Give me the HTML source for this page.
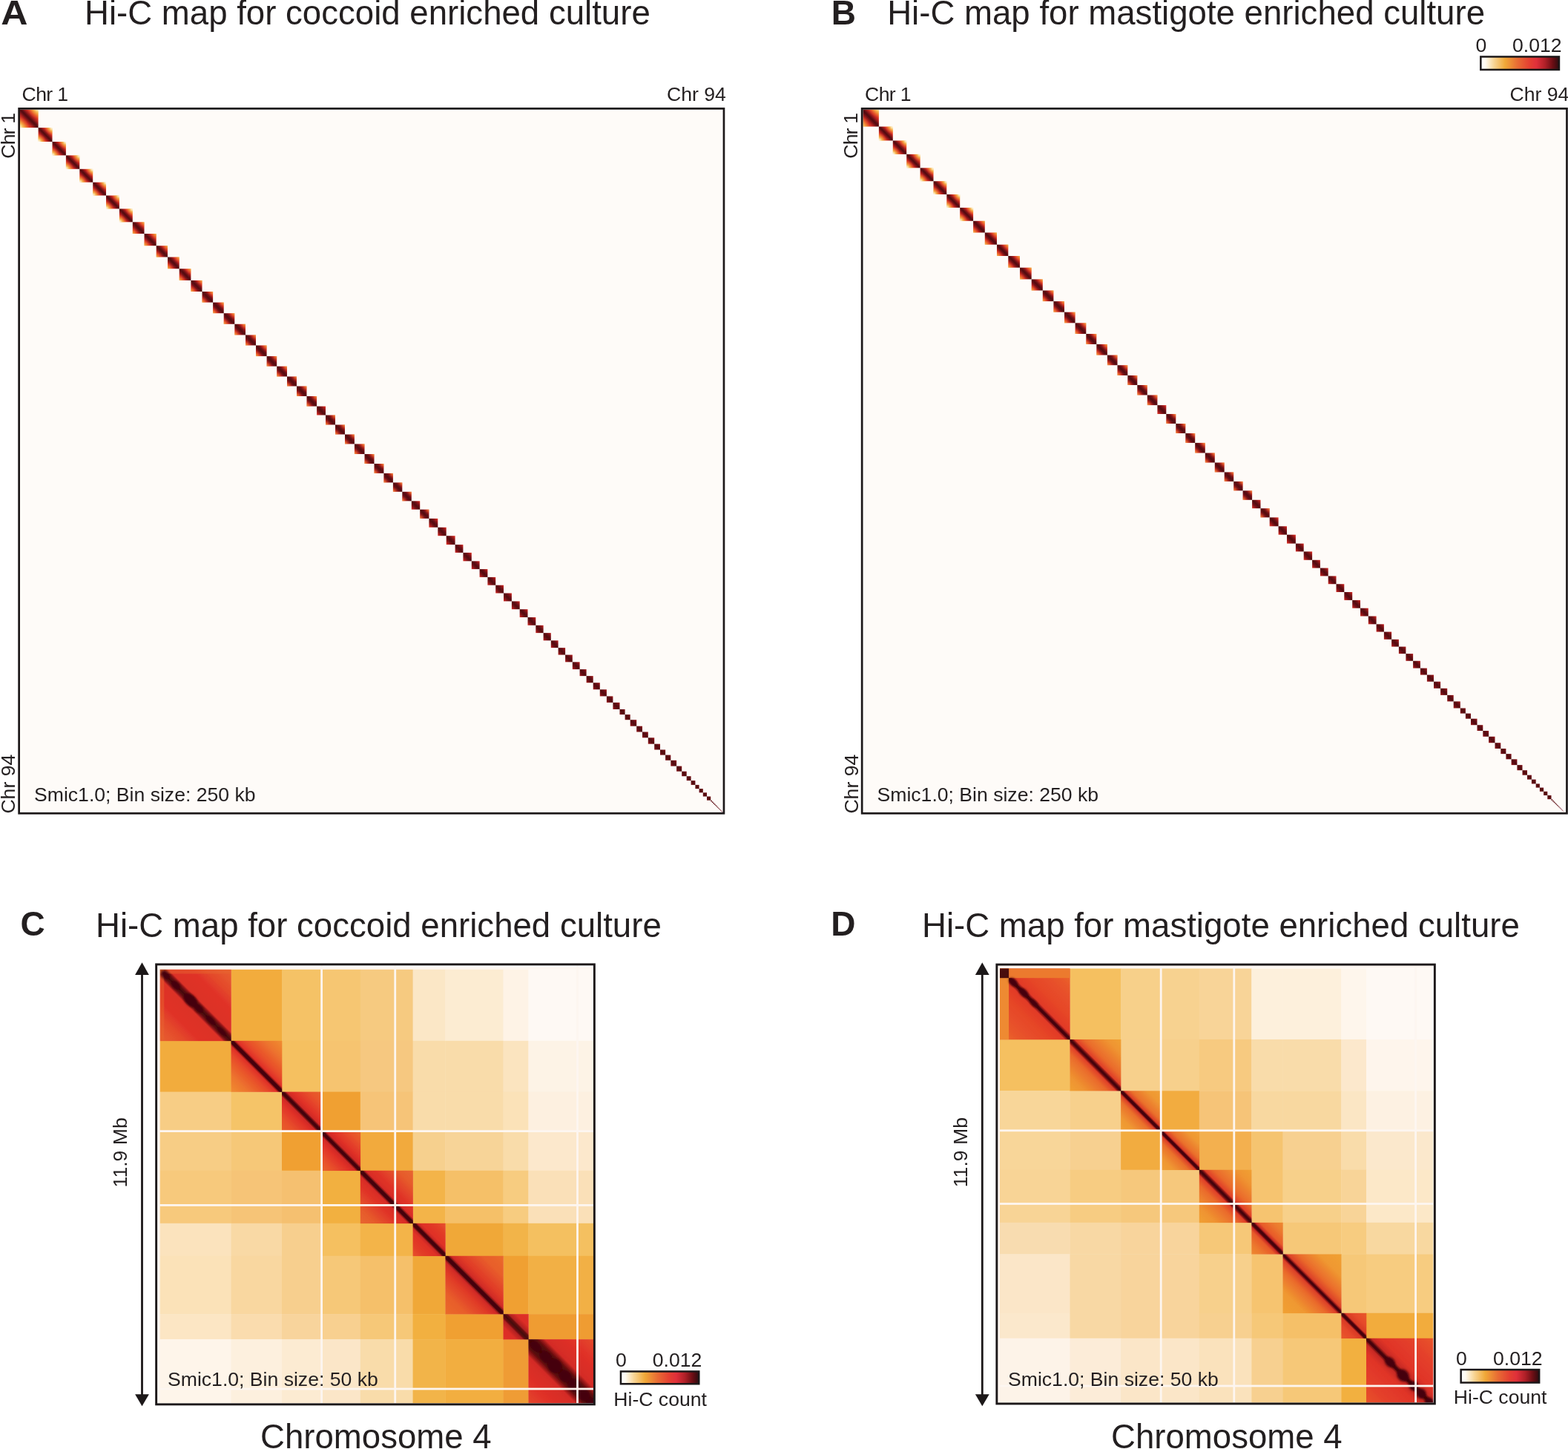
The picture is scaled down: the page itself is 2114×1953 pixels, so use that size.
<!DOCTYPE html>
<html><head><meta charset="utf-8"><title>Hi-C maps</title>
<style>
html,body{margin:0;padding:0;background:#fff;}
body{width:2114px;height:1953px;overflow:hidden;position:relative;}
svg{position:absolute;left:0;top:0;display:block;}
text{font-family:"Liberation Sans",Arial,Helvetica,sans-serif;fill:#231f20;}
.t{font-size:45.6px;}
.b{font-size:46px;font-weight:bold;}
.s{font-size:26.6px;}
</style></head><body>
<svg width="2114" height="1953" viewBox="0 0 2114 1953">
<defs><filter id="blur2" x="-50%" y="-50%" width="200%" height="200%"><feGaussianBlur stdDeviation="1.6"/></filter><filter id="soft" x="0" y="0" width="100%" height="100%"><feGaussianBlur stdDeviation="0.7"/></filter><radialGradient id="capATR" cx="1" cy="0" r="0.55" fx="1" fy="0"><stop offset="0" stop-color="#fefbf8" stop-opacity="1"/><stop offset="0.22" stop-color="#fce6b4" stop-opacity="0.9"/><stop offset="0.45" stop-color="#f7bf58" stop-opacity="0.6"/><stop offset="0.75" stop-color="#f29a38" stop-opacity="0.25"/><stop offset="1" stop-color="#f29a38" stop-opacity="0"/></radialGradient>
<radialGradient id="capABL" cx="0" cy="1" r="0.55" fx="0" fy="1"><stop offset="0" stop-color="#fefbf8" stop-opacity="1"/><stop offset="0.22" stop-color="#fce6b4" stop-opacity="0.9"/><stop offset="0.45" stop-color="#f7bf58" stop-opacity="0.6"/><stop offset="0.75" stop-color="#f29a38" stop-opacity="0.25"/><stop offset="1" stop-color="#f29a38" stop-opacity="0"/></radialGradient>
<radialGradient id="capBTR" cx="1" cy="0" r="0.55" fx="1" fy="0"><stop offset="0" stop-color="#f8c868" stop-opacity="0.6"/><stop offset="0.35" stop-color="#f29a38" stop-opacity="0.4"/><stop offset="0.75" stop-color="#ec6a2c" stop-opacity="0.12"/><stop offset="1" stop-color="#ec6a2c" stop-opacity="0"/></radialGradient>
<radialGradient id="capBBL" cx="0" cy="1" r="0.55" fx="0" fy="1"><stop offset="0" stop-color="#f8c868" stop-opacity="0.6"/><stop offset="0.35" stop-color="#f29a38" stop-opacity="0.4"/><stop offset="0.75" stop-color="#ec6a2c" stop-opacity="0.12"/><stop offset="1" stop-color="#ec6a2c" stop-opacity="0"/></radialGradient>
<linearGradient id="cbg" x1="0" y1="0" x2="1" y2="0"><stop offset="0" stop-color="#ffffff"/><stop offset="0.06" stop-color="#fffaf0"/><stop offset="0.17" stop-color="#f8d494"/><stop offset="0.31" stop-color="#f0a838"/><stop offset="0.47" stop-color="#e86c34"/><stop offset="0.62" stop-color="#e44032"/><stop offset="0.71" stop-color="#e0303a"/><stop offset="0.82" stop-color="#b02028"/><stop offset="0.92" stop-color="#6a0e14"/><stop offset="1" stop-color="#2c0c10"/></linearGradient>
<clipPath id="clip1"><rect x="27" y="147.7" width="947.6" height="947.2"/></clipPath>
<linearGradient id="bg2" x1="1" y1="0" x2="0" y2="1"><stop offset="0" stop-color="#fefbf8"/><stop offset="0.05" stop-color="#fdeed0"/><stop offset="0.1" stop-color="#fad68c"/><stop offset="0.15" stop-color="#f5ad4c"/><stop offset="0.2" stop-color="#ee7e31"/><stop offset="0.25" stop-color="#e7582a"/><stop offset="0.3" stop-color="#dd3827"/><stop offset="0.35" stop-color="#c22822"/><stop offset="0.4" stop-color="#9a1a1c"/><stop offset="0.45" stop-color="#6c0f14"/><stop offset="0.5" stop-color="#500a10"/><stop offset="0.55" stop-color="#6c0f14"/><stop offset="0.6" stop-color="#9a1a1c"/><stop offset="0.65" stop-color="#c22822"/><stop offset="0.7" stop-color="#dd3827"/><stop offset="0.75" stop-color="#e7582a"/><stop offset="0.8" stop-color="#ee7e31"/><stop offset="0.85" stop-color="#f5ad4c"/><stop offset="0.9" stop-color="#fad68c"/><stop offset="0.95" stop-color="#fdeed0"/><stop offset="1" stop-color="#fefbf8"/></linearGradient>
<linearGradient id="bg3" x1="1" y1="0" x2="0" y2="1"><stop offset="0" stop-color="#fce8bc"/><stop offset="0.05" stop-color="#f9cf7b"/><stop offset="0.1" stop-color="#f5b352"/><stop offset="0.15" stop-color="#f18f35"/><stop offset="0.2" stop-color="#eb682c"/><stop offset="0.25" stop-color="#e34529"/><stop offset="0.3" stop-color="#cd2f25"/><stop offset="0.35" stop-color="#b01f1f"/><stop offset="0.4" stop-color="#891619"/><stop offset="0.45" stop-color="#680f13"/><stop offset="0.5" stop-color="#500a10"/><stop offset="0.55" stop-color="#680f13"/><stop offset="0.6" stop-color="#891619"/><stop offset="0.65" stop-color="#b01f1f"/><stop offset="0.7" stop-color="#cd2f25"/><stop offset="0.75" stop-color="#e34529"/><stop offset="0.8" stop-color="#eb682c"/><stop offset="0.85" stop-color="#f18f35"/><stop offset="0.9" stop-color="#f5b352"/><stop offset="0.95" stop-color="#f9cf7b"/><stop offset="1" stop-color="#fce8bc"/></linearGradient>
<linearGradient id="bg4" x1="1" y1="0" x2="0" y2="1"><stop offset="0" stop-color="#fce5b4"/><stop offset="0.05" stop-color="#f8cc71"/><stop offset="0.1" stop-color="#f5af4e"/><stop offset="0.15" stop-color="#f08c34"/><stop offset="0.2" stop-color="#eb662c"/><stop offset="0.25" stop-color="#e24329"/><stop offset="0.3" stop-color="#cc2e24"/><stop offset="0.35" stop-color="#ae1f1f"/><stop offset="0.4" stop-color="#871518"/><stop offset="0.45" stop-color="#680f13"/><stop offset="0.5" stop-color="#500a10"/><stop offset="0.55" stop-color="#680f13"/><stop offset="0.6" stop-color="#871518"/><stop offset="0.65" stop-color="#ae1f1f"/><stop offset="0.7" stop-color="#cc2e24"/><stop offset="0.75" stop-color="#e24329"/><stop offset="0.8" stop-color="#eb662c"/><stop offset="0.85" stop-color="#f08c34"/><stop offset="0.9" stop-color="#f5af4e"/><stop offset="0.95" stop-color="#f8cc71"/><stop offset="1" stop-color="#fce5b4"/></linearGradient>
<linearGradient id="bg5" x1="1" y1="0" x2="0" y2="1"><stop offset="0" stop-color="#fbe2ab"/><stop offset="0.05" stop-color="#f8c868"/><stop offset="0.1" stop-color="#f4ac4a"/><stop offset="0.15" stop-color="#f08934"/><stop offset="0.2" stop-color="#ea642b"/><stop offset="0.25" stop-color="#e24129"/><stop offset="0.3" stop-color="#ca2d24"/><stop offset="0.35" stop-color="#ac1e1f"/><stop offset="0.4" stop-color="#861518"/><stop offset="0.45" stop-color="#670e13"/><stop offset="0.5" stop-color="#500a10"/><stop offset="0.55" stop-color="#670e13"/><stop offset="0.6" stop-color="#861518"/><stop offset="0.65" stop-color="#ac1e1f"/><stop offset="0.7" stop-color="#ca2d24"/><stop offset="0.75" stop-color="#e24129"/><stop offset="0.8" stop-color="#ea642b"/><stop offset="0.85" stop-color="#f08934"/><stop offset="0.9" stop-color="#f4ac4a"/><stop offset="0.95" stop-color="#f8c868"/><stop offset="1" stop-color="#fbe2ab"/></linearGradient>
<linearGradient id="bg6" x1="1" y1="0" x2="0" y2="1"><stop offset="0" stop-color="#f3a03e"/><stop offset="0.05" stop-color="#f08733"/><stop offset="0.1" stop-color="#ec6c2d"/><stop offset="0.15" stop-color="#e7542a"/><stop offset="0.2" stop-color="#e13d28"/><stop offset="0.25" stop-color="#c92c24"/><stop offset="0.3" stop-color="#ac1e1f"/><stop offset="0.35" stop-color="#8f171a"/><stop offset="0.4" stop-color="#731115"/><stop offset="0.45" stop-color="#610d12"/><stop offset="0.5" stop-color="#500a10"/><stop offset="0.55" stop-color="#610d12"/><stop offset="0.6" stop-color="#731115"/><stop offset="0.65" stop-color="#8f171a"/><stop offset="0.7" stop-color="#ac1e1f"/><stop offset="0.75" stop-color="#c92c24"/><stop offset="0.8" stop-color="#e13d28"/><stop offset="0.85" stop-color="#e7542a"/><stop offset="0.9" stop-color="#ec6c2d"/><stop offset="0.95" stop-color="#f08733"/><stop offset="1" stop-color="#f3a03e"/></linearGradient>
<linearGradient id="bg7" x1="1" y1="0" x2="0" y2="1"><stop offset="0" stop-color="#f4ac4a"/><stop offset="0.05" stop-color="#f19336"/><stop offset="0.1" stop-color="#ee782f"/><stop offset="0.15" stop-color="#e95e2b"/><stop offset="0.2" stop-color="#e34629"/><stop offset="0.25" stop-color="#d13125"/><stop offset="0.3" stop-color="#b42020"/><stop offset="0.35" stop-color="#95191b"/><stop offset="0.4" stop-color="#771116"/><stop offset="0.45" stop-color="#630e13"/><stop offset="0.5" stop-color="#500a10"/><stop offset="0.55" stop-color="#630e13"/><stop offset="0.6" stop-color="#771116"/><stop offset="0.65" stop-color="#95191b"/><stop offset="0.7" stop-color="#b42020"/><stop offset="0.75" stop-color="#d13125"/><stop offset="0.8" stop-color="#e34629"/><stop offset="0.85" stop-color="#e95e2b"/><stop offset="0.9" stop-color="#ee782f"/><stop offset="0.95" stop-color="#f19336"/><stop offset="1" stop-color="#f4ac4a"/></linearGradient>
<linearGradient id="bg8" x1="1" y1="0" x2="0" y2="1"><stop offset="0" stop-color="#f19336"/><stop offset="0.05" stop-color="#ee7a30"/><stop offset="0.1" stop-color="#ea622b"/><stop offset="0.15" stop-color="#e44b29"/><stop offset="0.2" stop-color="#da3727"/><stop offset="0.25" stop-color="#c02722"/><stop offset="0.3" stop-color="#a51c1d"/><stop offset="0.35" stop-color="#881518"/><stop offset="0.4" stop-color="#701015"/><stop offset="0.45" stop-color="#600d12"/><stop offset="0.5" stop-color="#500a10"/><stop offset="0.55" stop-color="#600d12"/><stop offset="0.6" stop-color="#701015"/><stop offset="0.65" stop-color="#881518"/><stop offset="0.7" stop-color="#a51c1d"/><stop offset="0.75" stop-color="#c02722"/><stop offset="0.8" stop-color="#da3727"/><stop offset="0.85" stop-color="#e44b29"/><stop offset="0.9" stop-color="#ea622b"/><stop offset="0.95" stop-color="#ee7a30"/><stop offset="1" stop-color="#f19336"/></linearGradient>
<linearGradient id="bg9" x1="1" y1="0" x2="0" y2="1"><stop offset="0" stop-color="#f08633"/><stop offset="0.05" stop-color="#ec6e2d"/><stop offset="0.1" stop-color="#e7582a"/><stop offset="0.15" stop-color="#e24129"/><stop offset="0.2" stop-color="#d13125"/><stop offset="0.25" stop-color="#b82221"/><stop offset="0.3" stop-color="#9d1a1c"/><stop offset="0.35" stop-color="#821417"/><stop offset="0.4" stop-color="#6c0f14"/><stop offset="0.45" stop-color="#5e0d12"/><stop offset="0.5" stop-color="#500a10"/><stop offset="0.55" stop-color="#5e0d12"/><stop offset="0.6" stop-color="#6c0f14"/><stop offset="0.65" stop-color="#821417"/><stop offset="0.7" stop-color="#9d1a1c"/><stop offset="0.75" stop-color="#b82221"/><stop offset="0.8" stop-color="#d13125"/><stop offset="0.85" stop-color="#e24129"/><stop offset="0.9" stop-color="#e7582a"/><stop offset="0.95" stop-color="#ec6e2d"/><stop offset="1" stop-color="#f08633"/></linearGradient>
<linearGradient id="bg10" x1="1" y1="0" x2="0" y2="1"><stop offset="0" stop-color="#ee762f"/><stop offset="0.05" stop-color="#ea602b"/><stop offset="0.1" stop-color="#e44c29"/><stop offset="0.15" stop-color="#dd3827"/><stop offset="0.2" stop-color="#c72b23"/><stop offset="0.25" stop-color="#af1f1f"/><stop offset="0.3" stop-color="#96191b"/><stop offset="0.35" stop-color="#7c1316"/><stop offset="0.4" stop-color="#6a0f14"/><stop offset="0.45" stop-color="#5d0c12"/><stop offset="0.5" stop-color="#500a10"/><stop offset="0.55" stop-color="#5d0c12"/><stop offset="0.6" stop-color="#6a0f14"/><stop offset="0.65" stop-color="#7c1316"/><stop offset="0.7" stop-color="#96191b"/><stop offset="0.75" stop-color="#af1f1f"/><stop offset="0.8" stop-color="#c72b23"/><stop offset="0.85" stop-color="#dd3827"/><stop offset="0.9" stop-color="#e44c29"/><stop offset="0.95" stop-color="#ea602b"/><stop offset="1" stop-color="#ee762f"/></linearGradient>
<linearGradient id="bg11" x1="1" y1="0" x2="0" y2="1"><stop offset="0" stop-color="#eb662c"/><stop offset="0.05" stop-color="#e6532a"/><stop offset="0.1" stop-color="#e14028"/><stop offset="0.15" stop-color="#d23225"/><stop offset="0.2" stop-color="#bd2522"/><stop offset="0.25" stop-color="#a61d1e"/><stop offset="0.3" stop-color="#8e171a"/><stop offset="0.35" stop-color="#781216"/><stop offset="0.4" stop-color="#680f13"/><stop offset="0.45" stop-color="#5c0c12"/><stop offset="0.5" stop-color="#500a10"/><stop offset="0.55" stop-color="#5c0c12"/><stop offset="0.6" stop-color="#680f13"/><stop offset="0.65" stop-color="#781216"/><stop offset="0.7" stop-color="#8e171a"/><stop offset="0.75" stop-color="#a61d1e"/><stop offset="0.8" stop-color="#bd2522"/><stop offset="0.85" stop-color="#d23225"/><stop offset="0.9" stop-color="#e14028"/><stop offset="0.95" stop-color="#e6532a"/><stop offset="1" stop-color="#eb662c"/></linearGradient>
<linearGradient id="bg12" x1="1" y1="0" x2="0" y2="1"><stop offset="0" stop-color="#e7582a"/><stop offset="0.05" stop-color="#e34629"/><stop offset="0.1" stop-color="#da3727"/><stop offset="0.15" stop-color="#c72b23"/><stop offset="0.2" stop-color="#b22020"/><stop offset="0.25" stop-color="#9d1a1c"/><stop offset="0.3" stop-color="#871518"/><stop offset="0.35" stop-color="#741115"/><stop offset="0.4" stop-color="#660e13"/><stop offset="0.45" stop-color="#5b0c12"/><stop offset="0.5" stop-color="#500a10"/><stop offset="0.55" stop-color="#5b0c12"/><stop offset="0.6" stop-color="#660e13"/><stop offset="0.65" stop-color="#741115"/><stop offset="0.7" stop-color="#871518"/><stop offset="0.75" stop-color="#9d1a1c"/><stop offset="0.8" stop-color="#b22020"/><stop offset="0.85" stop-color="#c72b23"/><stop offset="0.9" stop-color="#da3727"/><stop offset="0.95" stop-color="#e34629"/><stop offset="1" stop-color="#e7582a"/></linearGradient>
<linearGradient id="bg13" x1="1" y1="0" x2="0" y2="1"><stop offset="0" stop-color="#e34529"/><stop offset="0.05" stop-color="#da3627"/><stop offset="0.1" stop-color="#c92c24"/><stop offset="0.15" stop-color="#b72221"/><stop offset="0.2" stop-color="#a41c1d"/><stop offset="0.25" stop-color="#91181a"/><stop offset="0.3" stop-color="#7f1317"/><stop offset="0.35" stop-color="#701015"/><stop offset="0.4" stop-color="#650e13"/><stop offset="0.45" stop-color="#5a0c11"/><stop offset="0.5" stop-color="#500a10"/><stop offset="0.55" stop-color="#5a0c11"/><stop offset="0.6" stop-color="#650e13"/><stop offset="0.65" stop-color="#701015"/><stop offset="0.7" stop-color="#7f1317"/><stop offset="0.75" stop-color="#91181a"/><stop offset="0.8" stop-color="#a41c1d"/><stop offset="0.85" stop-color="#b72221"/><stop offset="0.9" stop-color="#c92c24"/><stop offset="0.95" stop-color="#da3627"/><stop offset="1" stop-color="#e34529"/></linearGradient>
<linearGradient id="bg14" x1="1" y1="0" x2="0" y2="1"><stop offset="0" stop-color="#e54e2a"/><stop offset="0.05" stop-color="#e13d28"/><stop offset="0.1" stop-color="#d23125"/><stop offset="0.15" stop-color="#bf2722"/><stop offset="0.2" stop-color="#ab1e1e"/><stop offset="0.25" stop-color="#97191b"/><stop offset="0.3" stop-color="#831418"/><stop offset="0.35" stop-color="#721015"/><stop offset="0.4" stop-color="#650e13"/><stop offset="0.45" stop-color="#5b0c12"/><stop offset="0.5" stop-color="#500a10"/><stop offset="0.55" stop-color="#5b0c12"/><stop offset="0.6" stop-color="#650e13"/><stop offset="0.65" stop-color="#721015"/><stop offset="0.7" stop-color="#831418"/><stop offset="0.75" stop-color="#97191b"/><stop offset="0.8" stop-color="#ab1e1e"/><stop offset="0.85" stop-color="#bf2722"/><stop offset="0.9" stop-color="#d23125"/><stop offset="0.95" stop-color="#e13d28"/><stop offset="1" stop-color="#e54e2a"/></linearGradient>
<linearGradient id="bg15" x1="1" y1="0" x2="0" y2="1"><stop offset="0" stop-color="#e03c28"/><stop offset="0.05" stop-color="#d13125"/><stop offset="0.1" stop-color="#c02722"/><stop offset="0.15" stop-color="#af1f1f"/><stop offset="0.2" stop-color="#9c1a1c"/><stop offset="0.25" stop-color="#8b1619"/><stop offset="0.3" stop-color="#7a1216"/><stop offset="0.35" stop-color="#6e1014"/><stop offset="0.4" stop-color="#640e13"/><stop offset="0.45" stop-color="#5a0c11"/><stop offset="0.5" stop-color="#500a10"/><stop offset="0.55" stop-color="#5a0c11"/><stop offset="0.6" stop-color="#640e13"/><stop offset="0.65" stop-color="#6e1014"/><stop offset="0.7" stop-color="#7a1216"/><stop offset="0.75" stop-color="#8b1619"/><stop offset="0.8" stop-color="#9c1a1c"/><stop offset="0.85" stop-color="#af1f1f"/><stop offset="0.9" stop-color="#c02722"/><stop offset="0.95" stop-color="#d13125"/><stop offset="1" stop-color="#e03c28"/></linearGradient>
<linearGradient id="bg16" x1="1" y1="0" x2="0" y2="1"><stop offset="0" stop-color="#d93627"/><stop offset="0.05" stop-color="#c82c24"/><stop offset="0.1" stop-color="#b82221"/><stop offset="0.15" stop-color="#a61d1e"/><stop offset="0.2" stop-color="#95191b"/><stop offset="0.25" stop-color="#861518"/><stop offset="0.3" stop-color="#771116"/><stop offset="0.35" stop-color="#6c0f14"/><stop offset="0.4" stop-color="#630e13"/><stop offset="0.45" stop-color="#590c11"/><stop offset="0.5" stop-color="#500a10"/><stop offset="0.55" stop-color="#590c11"/><stop offset="0.6" stop-color="#630e13"/><stop offset="0.65" stop-color="#6c0f14"/><stop offset="0.7" stop-color="#771116"/><stop offset="0.75" stop-color="#861518"/><stop offset="0.8" stop-color="#95191b"/><stop offset="0.85" stop-color="#a61d1e"/><stop offset="0.9" stop-color="#b82221"/><stop offset="0.95" stop-color="#c82c24"/><stop offset="1" stop-color="#d93627"/></linearGradient>
<linearGradient id="bg17" x1="1" y1="0" x2="0" y2="1"><stop offset="0" stop-color="#ce2f25"/><stop offset="0.05" stop-color="#bf2622"/><stop offset="0.1" stop-color="#af1f1f"/><stop offset="0.15" stop-color="#9f1b1c"/><stop offset="0.2" stop-color="#8f171a"/><stop offset="0.25" stop-color="#811417"/><stop offset="0.3" stop-color="#741115"/><stop offset="0.35" stop-color="#6a0f14"/><stop offset="0.4" stop-color="#620d12"/><stop offset="0.45" stop-color="#590c11"/><stop offset="0.5" stop-color="#500a10"/><stop offset="0.55" stop-color="#590c11"/><stop offset="0.6" stop-color="#620d12"/><stop offset="0.65" stop-color="#6a0f14"/><stop offset="0.7" stop-color="#741115"/><stop offset="0.75" stop-color="#811417"/><stop offset="0.8" stop-color="#8f171a"/><stop offset="0.85" stop-color="#9f1b1c"/><stop offset="0.9" stop-color="#af1f1f"/><stop offset="0.95" stop-color="#bf2622"/><stop offset="1" stop-color="#ce2f25"/></linearGradient>
<linearGradient id="bg18" x1="1" y1="0" x2="0" y2="1"><stop offset="0" stop-color="#c32923"/><stop offset="0.05" stop-color="#b52120"/><stop offset="0.1" stop-color="#a61d1e"/><stop offset="0.15" stop-color="#98191b"/><stop offset="0.2" stop-color="#891619"/><stop offset="0.25" stop-color="#7c1216"/><stop offset="0.3" stop-color="#721015"/><stop offset="0.35" stop-color="#680f13"/><stop offset="0.4" stop-color="#600d12"/><stop offset="0.45" stop-color="#580c11"/><stop offset="0.5" stop-color="#500a10"/><stop offset="0.55" stop-color="#580c11"/><stop offset="0.6" stop-color="#600d12"/><stop offset="0.65" stop-color="#680f13"/><stop offset="0.7" stop-color="#721015"/><stop offset="0.75" stop-color="#7c1216"/><stop offset="0.8" stop-color="#891619"/><stop offset="0.85" stop-color="#98191b"/><stop offset="0.9" stop-color="#a61d1e"/><stop offset="0.95" stop-color="#b52120"/><stop offset="1" stop-color="#c32923"/></linearGradient>
<linearGradient id="bg19" x1="1" y1="0" x2="0" y2="1"><stop offset="0" stop-color="#b82221"/><stop offset="0.05" stop-color="#ab1e1e"/><stop offset="0.1" stop-color="#9e1b1c"/><stop offset="0.15" stop-color="#91171a"/><stop offset="0.2" stop-color="#841418"/><stop offset="0.25" stop-color="#781216"/><stop offset="0.3" stop-color="#6f1014"/><stop offset="0.35" stop-color="#670e13"/><stop offset="0.4" stop-color="#5f0d12"/><stop offset="0.45" stop-color="#580b11"/><stop offset="0.5" stop-color="#500a10"/><stop offset="0.55" stop-color="#580b11"/><stop offset="0.6" stop-color="#5f0d12"/><stop offset="0.65" stop-color="#670e13"/><stop offset="0.7" stop-color="#6f1014"/><stop offset="0.75" stop-color="#781216"/><stop offset="0.8" stop-color="#841418"/><stop offset="0.85" stop-color="#91171a"/><stop offset="0.9" stop-color="#9e1b1c"/><stop offset="0.95" stop-color="#ab1e1e"/><stop offset="1" stop-color="#b82221"/></linearGradient>
<linearGradient id="bg20" x1="1" y1="0" x2="0" y2="1"><stop offset="0" stop-color="#ac1e1f"/><stop offset="0.05" stop-color="#a11b1d"/><stop offset="0.1" stop-color="#95191b"/><stop offset="0.15" stop-color="#891619"/><stop offset="0.2" stop-color="#7e1317"/><stop offset="0.25" stop-color="#741115"/><stop offset="0.3" stop-color="#6c0f14"/><stop offset="0.35" stop-color="#650e13"/><stop offset="0.4" stop-color="#5e0d12"/><stop offset="0.45" stop-color="#570b11"/><stop offset="0.5" stop-color="#500a10"/><stop offset="0.55" stop-color="#570b11"/><stop offset="0.6" stop-color="#5e0d12"/><stop offset="0.65" stop-color="#650e13"/><stop offset="0.7" stop-color="#6c0f14"/><stop offset="0.75" stop-color="#741115"/><stop offset="0.8" stop-color="#7e1317"/><stop offset="0.85" stop-color="#891619"/><stop offset="0.9" stop-color="#95191b"/><stop offset="0.95" stop-color="#a11b1d"/><stop offset="1" stop-color="#ac1e1f"/></linearGradient>
<linearGradient id="bg21" x1="1" y1="0" x2="0" y2="1"><stop offset="0" stop-color="#a51c1d"/><stop offset="0.05" stop-color="#9a1a1b"/><stop offset="0.1" stop-color="#8e171a"/><stop offset="0.15" stop-color="#831418"/><stop offset="0.2" stop-color="#791216"/><stop offset="0.25" stop-color="#711015"/><stop offset="0.3" stop-color="#690f14"/><stop offset="0.35" stop-color="#630e13"/><stop offset="0.4" stop-color="#5d0c12"/><stop offset="0.45" stop-color="#560b11"/><stop offset="0.5" stop-color="#500a10"/><stop offset="0.55" stop-color="#560b11"/><stop offset="0.6" stop-color="#5d0c12"/><stop offset="0.65" stop-color="#630e13"/><stop offset="0.7" stop-color="#690f14"/><stop offset="0.75" stop-color="#711015"/><stop offset="0.8" stop-color="#791216"/><stop offset="0.85" stop-color="#831418"/><stop offset="0.9" stop-color="#8e171a"/><stop offset="0.95" stop-color="#9a1a1b"/><stop offset="1" stop-color="#a51c1d"/></linearGradient>
<linearGradient id="bg22" x1="1" y1="0" x2="0" y2="1"><stop offset="0" stop-color="#8d1719"/><stop offset="0.05" stop-color="#841418"/><stop offset="0.1" stop-color="#7b1216"/><stop offset="0.15" stop-color="#741115"/><stop offset="0.2" stop-color="#6d1014"/><stop offset="0.25" stop-color="#660e13"/><stop offset="0.3" stop-color="#620d13"/><stop offset="0.35" stop-color="#5d0d12"/><stop offset="0.4" stop-color="#590c11"/><stop offset="0.45" stop-color="#540b11"/><stop offset="0.5" stop-color="#500a10"/><stop offset="0.55" stop-color="#540b11"/><stop offset="0.6" stop-color="#590c11"/><stop offset="0.65" stop-color="#5d0d12"/><stop offset="0.7" stop-color="#620d13"/><stop offset="0.75" stop-color="#660e13"/><stop offset="0.8" stop-color="#6d1014"/><stop offset="0.85" stop-color="#741115"/><stop offset="0.9" stop-color="#7b1216"/><stop offset="0.95" stop-color="#841418"/><stop offset="1" stop-color="#8d1719"/></linearGradient>
<linearGradient id="bg23" x1="1" y1="0" x2="0" y2="1"><stop offset="0" stop-color="#9d1a1c"/><stop offset="0.05" stop-color="#92181a"/><stop offset="0.1" stop-color="#881518"/><stop offset="0.15" stop-color="#7d1317"/><stop offset="0.2" stop-color="#751115"/><stop offset="0.25" stop-color="#6d1014"/><stop offset="0.3" stop-color="#670e13"/><stop offset="0.35" stop-color="#610d12"/><stop offset="0.4" stop-color="#5b0c12"/><stop offset="0.45" stop-color="#560b11"/><stop offset="0.5" stop-color="#500a10"/><stop offset="0.55" stop-color="#560b11"/><stop offset="0.6" stop-color="#5b0c12"/><stop offset="0.65" stop-color="#610d12"/><stop offset="0.7" stop-color="#670e13"/><stop offset="0.75" stop-color="#6d1014"/><stop offset="0.8" stop-color="#751115"/><stop offset="0.85" stop-color="#7d1317"/><stop offset="0.9" stop-color="#881518"/><stop offset="0.95" stop-color="#92181a"/><stop offset="1" stop-color="#9d1a1c"/></linearGradient>
<linearGradient id="bg24" x1="1" y1="0" x2="0" y2="1"><stop offset="0" stop-color="#861518"/><stop offset="0.05" stop-color="#7d1317"/><stop offset="0.1" stop-color="#771116"/><stop offset="0.15" stop-color="#711015"/><stop offset="0.2" stop-color="#6b0f14"/><stop offset="0.25" stop-color="#650e13"/><stop offset="0.3" stop-color="#610d12"/><stop offset="0.35" stop-color="#5d0c12"/><stop offset="0.4" stop-color="#580c11"/><stop offset="0.45" stop-color="#540b11"/><stop offset="0.5" stop-color="#500a10"/><stop offset="0.55" stop-color="#540b11"/><stop offset="0.6" stop-color="#580c11"/><stop offset="0.65" stop-color="#5d0c12"/><stop offset="0.7" stop-color="#610d12"/><stop offset="0.75" stop-color="#650e13"/><stop offset="0.8" stop-color="#6b0f14"/><stop offset="0.85" stop-color="#711015"/><stop offset="0.9" stop-color="#771116"/><stop offset="0.95" stop-color="#7d1317"/><stop offset="1" stop-color="#861518"/></linearGradient>
<linearGradient id="bg25" x1="1" y1="0" x2="0" y2="1"><stop offset="0" stop-color="#7e1317"/><stop offset="0.05" stop-color="#781216"/><stop offset="0.1" stop-color="#731115"/><stop offset="0.15" stop-color="#6e1014"/><stop offset="0.2" stop-color="#690f14"/><stop offset="0.25" stop-color="#640e13"/><stop offset="0.3" stop-color="#600d12"/><stop offset="0.35" stop-color="#5c0c12"/><stop offset="0.4" stop-color="#580b11"/><stop offset="0.45" stop-color="#540b11"/><stop offset="0.5" stop-color="#500a10"/><stop offset="0.55" stop-color="#540b11"/><stop offset="0.6" stop-color="#580b11"/><stop offset="0.65" stop-color="#5c0c12"/><stop offset="0.7" stop-color="#600d12"/><stop offset="0.75" stop-color="#640e13"/><stop offset="0.8" stop-color="#690f14"/><stop offset="0.85" stop-color="#6e1014"/><stop offset="0.9" stop-color="#731115"/><stop offset="0.95" stop-color="#781216"/><stop offset="1" stop-color="#7e1317"/></linearGradient>
<linearGradient id="bg26" x1="1" y1="0" x2="0" y2="1"><stop offset="0" stop-color="#721015"/><stop offset="0.05" stop-color="#6e1014"/><stop offset="0.1" stop-color="#6b0f14"/><stop offset="0.15" stop-color="#680e13"/><stop offset="0.2" stop-color="#640e13"/><stop offset="0.25" stop-color="#610d12"/><stop offset="0.3" stop-color="#5d0d12"/><stop offset="0.35" stop-color="#5a0c11"/><stop offset="0.4" stop-color="#570b11"/><stop offset="0.45" stop-color="#530b10"/><stop offset="0.5" stop-color="#500a10"/><stop offset="0.55" stop-color="#530b10"/><stop offset="0.6" stop-color="#570b11"/><stop offset="0.65" stop-color="#5a0c11"/><stop offset="0.7" stop-color="#5d0d12"/><stop offset="0.75" stop-color="#610d12"/><stop offset="0.8" stop-color="#640e13"/><stop offset="0.85" stop-color="#680e13"/><stop offset="0.9" stop-color="#6b0f14"/><stop offset="0.95" stop-color="#6e1014"/><stop offset="1" stop-color="#721015"/></linearGradient>
<linearGradient id="bg27" x1="1" y1="0" x2="0" y2="1"><stop offset="0" stop-color="#721015"/><stop offset="0.05" stop-color="#6e1014"/><stop offset="0.1" stop-color="#6b0f14"/><stop offset="0.15" stop-color="#680e13"/><stop offset="0.2" stop-color="#640e13"/><stop offset="0.25" stop-color="#610d12"/><stop offset="0.3" stop-color="#5d0d12"/><stop offset="0.35" stop-color="#5a0c11"/><stop offset="0.4" stop-color="#570b11"/><stop offset="0.45" stop-color="#530b10"/><stop offset="0.5" stop-color="#500a10"/><stop offset="0.55" stop-color="#530b10"/><stop offset="0.6" stop-color="#570b11"/><stop offset="0.65" stop-color="#5a0c11"/><stop offset="0.7" stop-color="#5d0d12"/><stop offset="0.75" stop-color="#610d12"/><stop offset="0.8" stop-color="#640e13"/><stop offset="0.85" stop-color="#680e13"/><stop offset="0.9" stop-color="#6b0f14"/><stop offset="0.95" stop-color="#6e1014"/><stop offset="1" stop-color="#721015"/></linearGradient>
<linearGradient id="bg28" x1="1" y1="0" x2="0" y2="1"><stop offset="0" stop-color="#721015"/><stop offset="0.05" stop-color="#6e1014"/><stop offset="0.1" stop-color="#6b0f14"/><stop offset="0.15" stop-color="#680e13"/><stop offset="0.2" stop-color="#640e13"/><stop offset="0.25" stop-color="#610d12"/><stop offset="0.3" stop-color="#5d0d12"/><stop offset="0.35" stop-color="#5a0c11"/><stop offset="0.4" stop-color="#570b11"/><stop offset="0.45" stop-color="#530b10"/><stop offset="0.5" stop-color="#500a10"/><stop offset="0.55" stop-color="#530b10"/><stop offset="0.6" stop-color="#570b11"/><stop offset="0.65" stop-color="#5a0c11"/><stop offset="0.7" stop-color="#5d0d12"/><stop offset="0.75" stop-color="#610d12"/><stop offset="0.8" stop-color="#640e13"/><stop offset="0.85" stop-color="#680e13"/><stop offset="0.9" stop-color="#6b0f14"/><stop offset="0.95" stop-color="#6e1014"/><stop offset="1" stop-color="#721015"/></linearGradient>
<linearGradient id="bg29" x1="1" y1="0" x2="0" y2="1"><stop offset="0" stop-color="#721015"/><stop offset="0.05" stop-color="#6e1014"/><stop offset="0.1" stop-color="#6b0f14"/><stop offset="0.15" stop-color="#680e13"/><stop offset="0.2" stop-color="#640e13"/><stop offset="0.25" stop-color="#610d12"/><stop offset="0.3" stop-color="#5d0d12"/><stop offset="0.35" stop-color="#5a0c11"/><stop offset="0.4" stop-color="#570b11"/><stop offset="0.45" stop-color="#530b10"/><stop offset="0.5" stop-color="#500a10"/><stop offset="0.55" stop-color="#530b10"/><stop offset="0.6" stop-color="#570b11"/><stop offset="0.65" stop-color="#5a0c11"/><stop offset="0.7" stop-color="#5d0d12"/><stop offset="0.75" stop-color="#610d12"/><stop offset="0.8" stop-color="#640e13"/><stop offset="0.85" stop-color="#680e13"/><stop offset="0.9" stop-color="#6b0f14"/><stop offset="0.95" stop-color="#6e1014"/><stop offset="1" stop-color="#721015"/></linearGradient>
<clipPath id="clip30"><rect x="1163.5" y="147.7" width="947.6" height="947.2"/></clipPath>
<clipPath id="cclip31"><rect x="212" y="1301.4" width="588.1" height="589.9"/></clipPath>
<linearGradient id="cg32" gradientUnits="userSpaceOnUse" x1="311.5" y1="1306.47" x2="215.3" y2="1402.67"><stop offset="0" stop-color="#e8602e"/><stop offset="0.17" stop-color="#e44a2c"/><stop offset="0.28" stop-color="#e03228"/><stop offset="0.44" stop-color="#dc3028"/><stop offset="0.46" stop-color="#8a1416"/><stop offset="0.48" stop-color="#5a0c10"/><stop offset="0.5" stop-color="#440608"/><stop offset="0.52" stop-color="#5a0c10"/><stop offset="0.54" stop-color="#8a1416"/><stop offset="0.56" stop-color="#dc3028"/><stop offset="0.72" stop-color="#e03228"/><stop offset="0.83" stop-color="#e44a2c"/><stop offset="1" stop-color="#e8602e"/></linearGradient>
<linearGradient id="cg33" gradientUnits="userSpaceOnUse" x1="380" y1="1402.96" x2="311.5" y2="1471.46"><stop offset="0" stop-color="#f08c30"/><stop offset="0.17" stop-color="#ed742e"/><stop offset="0.36" stop-color="#e84c2a"/><stop offset="0.45" stop-color="#e03028"/><stop offset="0.47" stop-color="#8a1416"/><stop offset="0.48" stop-color="#440608"/><stop offset="0.5" stop-color="#440608"/><stop offset="0.52" stop-color="#440608"/><stop offset="0.53" stop-color="#8a1416"/><stop offset="0.55" stop-color="#e03028"/><stop offset="0.64" stop-color="#e84c2a"/><stop offset="0.83" stop-color="#ed742e"/><stop offset="1" stop-color="#f08c30"/></linearGradient>
<linearGradient id="cg34" gradientUnits="userSpaceOnUse" x1="433.6" y1="1471.67" x2="380" y2="1525.27"><stop offset="0" stop-color="#e8602c"/><stop offset="0.17" stop-color="#e8502a"/><stop offset="0.37" stop-color="#e03028"/><stop offset="0.44" stop-color="#d02a26"/><stop offset="0.46" stop-color="#8a1416"/><stop offset="0.48" stop-color="#440608"/><stop offset="0.5" stop-color="#440608"/><stop offset="0.52" stop-color="#440608"/><stop offset="0.54" stop-color="#8a1416"/><stop offset="0.56" stop-color="#d02a26"/><stop offset="0.63" stop-color="#e03028"/><stop offset="0.83" stop-color="#e8502a"/><stop offset="1" stop-color="#e8602c"/></linearGradient>
<linearGradient id="cg35" gradientUnits="userSpaceOnUse" x1="485.8" y1="1525.46" x2="433.6" y2="1577.66"><stop offset="0" stop-color="#e8642c"/><stop offset="0.16" stop-color="#e8502a"/><stop offset="0.36" stop-color="#e03028"/><stop offset="0.44" stop-color="#d02a26"/><stop offset="0.46" stop-color="#8a1416"/><stop offset="0.48" stop-color="#440608"/><stop offset="0.5" stop-color="#440608"/><stop offset="0.52" stop-color="#440608"/><stop offset="0.54" stop-color="#8a1416"/><stop offset="0.56" stop-color="#d02a26"/><stop offset="0.64" stop-color="#e03028"/><stop offset="0.84" stop-color="#e8502a"/><stop offset="1" stop-color="#e8642c"/></linearGradient>
<linearGradient id="cg36" gradientUnits="userSpaceOnUse" x1="556.6" y1="1577.88" x2="485.8" y2="1648.68"><stop offset="0" stop-color="#e8662e"/><stop offset="0.15" stop-color="#e65a2c"/><stop offset="0.35" stop-color="#e03428"/><stop offset="0.45" stop-color="#d82c26"/><stop offset="0.47" stop-color="#8a1416"/><stop offset="0.48" stop-color="#440608"/><stop offset="0.5" stop-color="#440608"/><stop offset="0.52" stop-color="#440608"/><stop offset="0.53" stop-color="#8a1416"/><stop offset="0.55" stop-color="#d82c26"/><stop offset="0.65" stop-color="#e03428"/><stop offset="0.85" stop-color="#e65a2c"/><stop offset="1" stop-color="#e8662e"/></linearGradient>
<linearGradient id="cg37" gradientUnits="userSpaceOnUse" x1="600.4" y1="1648.88" x2="556.6" y2="1692.68"><stop offset="0" stop-color="#e8502a"/><stop offset="0.18" stop-color="#e23c28"/><stop offset="0.37" stop-color="#e03028"/><stop offset="0.43" stop-color="#c82824"/><stop offset="0.45" stop-color="#8a1416"/><stop offset="0.47" stop-color="#440608"/><stop offset="0.5" stop-color="#440608"/><stop offset="0.53" stop-color="#440608"/><stop offset="0.55" stop-color="#8a1416"/><stop offset="0.57" stop-color="#c82824"/><stop offset="0.63" stop-color="#e03028"/><stop offset="0.82" stop-color="#e23c28"/><stop offset="1" stop-color="#e8502a"/></linearGradient>
<linearGradient id="cg38" gradientUnits="userSpaceOnUse" x1="678.5" y1="1692.89" x2="600.4" y2="1770.99"><stop offset="0" stop-color="#ea6a2c"/><stop offset="0.18" stop-color="#e85e2a"/><stop offset="0.37" stop-color="#e03a28"/><stop offset="0.45" stop-color="#d02a26"/><stop offset="0.47" stop-color="#8a1416"/><stop offset="0.48" stop-color="#440608"/><stop offset="0.5" stop-color="#440608"/><stop offset="0.52" stop-color="#440608"/><stop offset="0.53" stop-color="#8a1416"/><stop offset="0.55" stop-color="#d02a26"/><stop offset="0.63" stop-color="#e03a28"/><stop offset="0.82" stop-color="#e85e2a"/><stop offset="1" stop-color="#ea6a2c"/></linearGradient>
<linearGradient id="cg39" gradientUnits="userSpaceOnUse" x1="712.4" y1="1771.19" x2="678.5" y2="1805.09"><stop offset="0" stop-color="#e03028"/><stop offset="0.25" stop-color="#dc2e26"/><stop offset="0.39" stop-color="#b02020"/><stop offset="0.43" stop-color="#6a0c10"/><stop offset="0.5" stop-color="#440608"/><stop offset="0.57" stop-color="#6a0c10"/><stop offset="0.61" stop-color="#b02020"/><stop offset="0.75" stop-color="#dc2e26"/><stop offset="1" stop-color="#e03028"/></linearGradient>
<linearGradient id="cg40" gradientUnits="userSpaceOnUse" x1="800.1" y1="1805.3" x2="712.4" y2="1893"><stop offset="0" stop-color="#e44a2c"/><stop offset="0.18" stop-color="#e03028"/><stop offset="0.37" stop-color="#d42c26"/><stop offset="0.41" stop-color="#8a1414"/><stop offset="0.44" stop-color="#5a0a0c"/><stop offset="0.5" stop-color="#440608"/><stop offset="0.56" stop-color="#5a0a0c"/><stop offset="0.59" stop-color="#8a1414"/><stop offset="0.63" stop-color="#d42c26"/><stop offset="0.82" stop-color="#e03028"/><stop offset="1" stop-color="#e44a2c"/></linearGradient>
<clipPath id="cclip41"><rect x="1345.4" y="1301.6" width="587" height="588.9"/></clipPath>
<linearGradient id="cg42" gradientUnits="userSpaceOnUse" x1="1442.4" y1="1305.78" x2="1347.6" y2="1400.58"><stop offset="0" stop-color="#ec6a2e"/><stop offset="0.16" stop-color="#e8542a"/><stop offset="0.35" stop-color="#e64628"/><stop offset="0.46" stop-color="#e23a28"/><stop offset="0.48" stop-color="#8a1416"/><stop offset="0.49" stop-color="#440608"/><stop offset="0.5" stop-color="#440608"/><stop offset="0.51" stop-color="#440608"/><stop offset="0.52" stop-color="#8a1416"/><stop offset="0.54" stop-color="#e23a28"/><stop offset="0.65" stop-color="#e64628"/><stop offset="0.84" stop-color="#e8542a"/><stop offset="1" stop-color="#ec6a2e"/></linearGradient>
<linearGradient id="cg43" gradientUnits="userSpaceOnUse" x1="1511.1" y1="1401.23" x2="1442.4" y2="1469.93"><stop offset="0" stop-color="#f0a030"/><stop offset="0.14" stop-color="#ef9430"/><stop offset="0.36" stop-color="#ea6a2c"/><stop offset="0.45" stop-color="#e04028"/><stop offset="0.47" stop-color="#8a1416"/><stop offset="0.49" stop-color="#440608"/><stop offset="0.5" stop-color="#440608"/><stop offset="0.51" stop-color="#440608"/><stop offset="0.53" stop-color="#8a1416"/><stop offset="0.55" stop-color="#e04028"/><stop offset="0.64" stop-color="#ea6a2c"/><stop offset="0.86" stop-color="#ef9430"/><stop offset="1" stop-color="#f0a030"/></linearGradient>
<linearGradient id="cg44" gradientUnits="userSpaceOnUse" x1="1565.2" y1="1470.42" x2="1511.1" y2="1524.52"><stop offset="0" stop-color="#f0a035"/><stop offset="0.17" stop-color="#ef9832"/><stop offset="0.37" stop-color="#ea702c"/><stop offset="0.45" stop-color="#dc4028"/><stop offset="0.47" stop-color="#8a1416"/><stop offset="0.48" stop-color="#440608"/><stop offset="0.5" stop-color="#440608"/><stop offset="0.52" stop-color="#440608"/><stop offset="0.53" stop-color="#8a1416"/><stop offset="0.55" stop-color="#dc4028"/><stop offset="0.63" stop-color="#ea702c"/><stop offset="0.83" stop-color="#ef9832"/><stop offset="1" stop-color="#f0a035"/></linearGradient>
<linearGradient id="cg45" gradientUnits="userSpaceOnUse" x1="1616.8" y1="1524.95" x2="1565.2" y2="1576.55"><stop offset="0" stop-color="#f0a035"/><stop offset="0.16" stop-color="#ef9832"/><stop offset="0.36" stop-color="#ea702c"/><stop offset="0.45" stop-color="#dc4028"/><stop offset="0.47" stop-color="#8a1416"/><stop offset="0.48" stop-color="#440608"/><stop offset="0.5" stop-color="#440608"/><stop offset="0.52" stop-color="#440608"/><stop offset="0.53" stop-color="#8a1416"/><stop offset="0.55" stop-color="#dc4028"/><stop offset="0.64" stop-color="#ea702c"/><stop offset="0.84" stop-color="#ef9832"/><stop offset="1" stop-color="#f0a035"/></linearGradient>
<linearGradient id="cg46" gradientUnits="userSpaceOnUse" x1="1687.3" y1="1577.04" x2="1616.8" y2="1647.54"><stop offset="0" stop-color="#f0a030"/><stop offset="0.15" stop-color="#ef9430"/><stop offset="0.36" stop-color="#ea6a2c"/><stop offset="0.45" stop-color="#e04028"/><stop offset="0.47" stop-color="#8a1416"/><stop offset="0.49" stop-color="#440608"/><stop offset="0.5" stop-color="#440608"/><stop offset="0.51" stop-color="#440608"/><stop offset="0.53" stop-color="#8a1416"/><stop offset="0.55" stop-color="#e04028"/><stop offset="0.64" stop-color="#ea6a2c"/><stop offset="0.85" stop-color="#ef9430"/><stop offset="1" stop-color="#f0a030"/></linearGradient>
<linearGradient id="cg47" gradientUnits="userSpaceOnUse" x1="1729.5" y1="1647.99" x2="1687.3" y2="1690.19"><stop offset="0" stop-color="#ee8830"/><stop offset="0.16" stop-color="#ec7a2e"/><stop offset="0.37" stop-color="#e85a2a"/><stop offset="0.44" stop-color="#c82a24"/><stop offset="0.46" stop-color="#7a1012"/><stop offset="0.48" stop-color="#440608"/><stop offset="0.5" stop-color="#440608"/><stop offset="0.52" stop-color="#440608"/><stop offset="0.54" stop-color="#7a1012"/><stop offset="0.56" stop-color="#c82a24"/><stop offset="0.63" stop-color="#e85a2a"/><stop offset="0.84" stop-color="#ec7a2e"/><stop offset="1" stop-color="#ee8830"/></linearGradient>
<linearGradient id="cg48" gradientUnits="userSpaceOnUse" x1="1808.3" y1="1690.67" x2="1729.5" y2="1769.47"><stop offset="0.01" stop-color="#f0a030"/><stop offset="0.19" stop-color="#ef9830"/><stop offset="0.37" stop-color="#ea6a2c"/><stop offset="0.46" stop-color="#dc4028"/><stop offset="0.48" stop-color="#8a1416"/><stop offset="0.49" stop-color="#440608"/><stop offset="0.5" stop-color="#440608"/><stop offset="0.51" stop-color="#440608"/><stop offset="0.52" stop-color="#8a1416"/><stop offset="0.54" stop-color="#dc4028"/><stop offset="0.63" stop-color="#ea6a2c"/><stop offset="0.81" stop-color="#ef9830"/><stop offset="0.99" stop-color="#f0a030"/></linearGradient>
<linearGradient id="cg49" gradientUnits="userSpaceOnUse" x1="1842" y1="1769.92" x2="1808.3" y2="1803.62"><stop offset="0" stop-color="#e8582a"/><stop offset="0.25" stop-color="#e64a2a"/><stop offset="0.42" stop-color="#d83a26"/><stop offset="0.45" stop-color="#8a1416"/><stop offset="0.47" stop-color="#440608"/><stop offset="0.5" stop-color="#440608"/><stop offset="0.53" stop-color="#440608"/><stop offset="0.55" stop-color="#8a1416"/><stop offset="0.58" stop-color="#d83a26"/><stop offset="0.75" stop-color="#e64a2a"/><stop offset="1" stop-color="#e8582a"/></linearGradient>
<linearGradient id="cg50" gradientUnits="userSpaceOnUse" x1="1932.4" y1="1804.12" x2="1842" y2="1894.52"><stop offset="0.01" stop-color="#e8542c"/><stop offset="0.19" stop-color="#e4402a"/><stop offset="0.39" stop-color="#e03428"/><stop offset="0.46" stop-color="#c82a24"/><stop offset="0.48" stop-color="#7a1012"/><stop offset="0.49" stop-color="#440608"/><stop offset="0.5" stop-color="#440608"/><stop offset="0.51" stop-color="#440608"/><stop offset="0.52" stop-color="#7a1012"/><stop offset="0.54" stop-color="#c82a24"/><stop offset="0.61" stop-color="#e03428"/><stop offset="0.81" stop-color="#e4402a"/><stop offset="0.99" stop-color="#e8542c"/></linearGradient></defs>
<rect width="2114" height="1953" fill="#fff"/>
<g clip-path="url(#clip1)">
<rect x="27" y="147.7" width="947.6" height="947.2" fill="#fefbf8"/>
<g filter="url(#soft)"><rect x="24.5" y="145" width="27.1" height="27.1" fill="url(#bg2)"/><rect x="24.5" y="145" width="27.1" height="27.1" fill="url(#capATR)"/><rect x="24.5" y="145" width="27.1" height="27.1" fill="url(#capABL)"/><rect x="51.6" y="172.1" width="18.9" height="18.9" fill="url(#bg3)"/><rect x="51.6" y="172.1" width="18.9" height="18.9" fill="url(#capATR)"/><rect x="51.6" y="172.1" width="18.9" height="18.9" fill="url(#capABL)"/><rect x="70.5" y="191" width="18.4" height="18.4" fill="url(#bg4)"/><rect x="70.5" y="191" width="18.4" height="18.4" fill="url(#capATR)"/><rect x="70.5" y="191" width="18.4" height="18.4" fill="url(#capABL)"/><rect x="88.9" y="209.4" width="18.4" height="18.4" fill="url(#bg4)"/><rect x="88.9" y="209.4" width="18.4" height="18.4" fill="url(#capATR)"/><rect x="88.9" y="209.4" width="18.4" height="18.4" fill="url(#capABL)"/><rect x="107.3" y="227.8" width="17.9" height="17.9" fill="url(#bg5)"/><rect x="107.3" y="227.8" width="17.9" height="17.9" fill="url(#capATR)"/><rect x="107.3" y="227.8" width="17.9" height="17.9" fill="url(#capABL)"/><rect x="125.2" y="245.7" width="17.8" height="17.8" fill="url(#bg5)"/><rect x="125.2" y="245.7" width="17.8" height="17.8" fill="url(#capATR)"/><rect x="125.2" y="245.7" width="17.8" height="17.8" fill="url(#capABL)"/><rect x="143" y="263.5" width="17.9" height="17.9" fill="url(#bg5)"/><rect x="143" y="263.5" width="17.9" height="17.9" fill="url(#capATR)"/><rect x="143" y="263.5" width="17.9" height="17.9" fill="url(#capABL)"/><rect x="160.9" y="281.4" width="17.9" height="17.9" fill="url(#bg5)"/><rect x="160.9" y="281.4" width="17.9" height="17.9" fill="url(#capATR)"/><rect x="160.9" y="281.4" width="17.9" height="17.9" fill="url(#capABL)"/><rect x="178.8" y="299.3" width="15.7" height="15.7" fill="url(#bg6)"/><rect x="178.8" y="299.3" width="15.7" height="15.7" fill="url(#capBTR)"/><rect x="178.8" y="299.3" width="15.7" height="15.7" fill="url(#capBBL)"/><rect x="194.5" y="315" width="16.2" height="16.2" fill="url(#bg7)"/><rect x="194.5" y="315" width="16.2" height="16.2" fill="url(#capBTR)"/><rect x="194.5" y="315" width="16.2" height="16.2" fill="url(#capBBL)"/><rect x="210.7" y="331.2" width="15.3" height="15.3" fill="url(#bg6)"/><rect x="210.7" y="331.2" width="15.3" height="15.3" fill="url(#capBTR)"/><rect x="210.7" y="331.2" width="15.3" height="15.3" fill="url(#capBBL)"/><rect x="226" y="346.5" width="15.7" height="15.7" fill="url(#bg6)"/><rect x="226" y="346.5" width="15.7" height="15.7" fill="url(#capBTR)"/><rect x="226" y="346.5" width="15.7" height="15.7" fill="url(#capBBL)"/><rect x="241.7" y="362.2" width="15.7" height="15.7" fill="url(#bg6)"/><rect x="241.7" y="362.2" width="15.7" height="15.7" fill="url(#capBTR)"/><rect x="241.7" y="362.2" width="15.7" height="15.7" fill="url(#capBBL)"/><rect x="257.4" y="377.9" width="15.1" height="15.1" fill="url(#bg8)"/><rect x="257.4" y="377.9" width="15.1" height="15.1" fill="url(#capBTR)"/><rect x="257.4" y="377.9" width="15.1" height="15.1" fill="url(#capBBL)"/><rect x="272.5" y="393" width="14.6" height="14.6" fill="url(#bg9)"/><rect x="272.5" y="393" width="14.6" height="14.6" fill="url(#capBTR)"/><rect x="272.5" y="393" width="14.6" height="14.6" fill="url(#capBBL)"/><rect x="287.1" y="407.6" width="14.6" height="14.6" fill="url(#bg9)"/><rect x="287.1" y="407.6" width="14.6" height="14.6" fill="url(#capBTR)"/><rect x="287.1" y="407.6" width="14.6" height="14.6" fill="url(#capBBL)"/><rect x="301.7" y="422.2" width="14.6" height="14.6" fill="url(#bg9)"/><rect x="301.7" y="422.2" width="14.6" height="14.6" fill="url(#capBTR)"/><rect x="301.7" y="422.2" width="14.6" height="14.6" fill="url(#capBBL)"/><rect x="316.3" y="436.8" width="14.7" height="14.7" fill="url(#bg9)"/><rect x="316.3" y="436.8" width="14.7" height="14.7" fill="url(#capBTR)"/><rect x="316.3" y="436.8" width="14.7" height="14.7" fill="url(#capBBL)"/><rect x="331" y="451.5" width="14" height="14" fill="url(#bg10)"/><rect x="331" y="451.5" width="14" height="14" fill="url(#capBTR)"/><rect x="331" y="451.5" width="14" height="14" fill="url(#capBBL)"/><rect x="345" y="465.5" width="14.6" height="14.6" fill="url(#bg9)"/><rect x="345" y="465.5" width="14.6" height="14.6" fill="url(#capBTR)"/><rect x="345" y="465.5" width="14.6" height="14.6" fill="url(#capBBL)"/><rect x="359.6" y="480.1" width="13.6" height="13.6" fill="url(#bg11)"/><rect x="359.6" y="480.1" width="13.6" height="13.6" fill="url(#capBTR)"/><rect x="359.6" y="480.1" width="13.6" height="13.6" fill="url(#capBBL)"/><rect x="373.2" y="493.7" width="13.8" height="13.8" fill="url(#bg10)"/><rect x="373.2" y="493.7" width="13.8" height="13.8" fill="url(#capBTR)"/><rect x="373.2" y="493.7" width="13.8" height="13.8" fill="url(#capBBL)"/><rect x="387" y="507.5" width="13" height="13" fill="url(#bg12)"/><rect x="387" y="507.5" width="13" height="13" fill="url(#capBTR)"/><rect x="387" y="507.5" width="13" height="13" fill="url(#capBBL)"/><rect x="400" y="520.5" width="13.5" height="13.5" fill="url(#bg11)"/><rect x="400" y="520.5" width="13.5" height="13.5" fill="url(#capBTR)"/><rect x="400" y="520.5" width="13.5" height="13.5" fill="url(#capBBL)"/><rect x="413.5" y="534" width="13.6" height="13.6" fill="url(#bg11)"/><rect x="413.5" y="534" width="13.6" height="13.6" fill="url(#capBTR)"/><rect x="413.5" y="534" width="13.6" height="13.6" fill="url(#capBBL)"/><rect x="427.1" y="547.6" width="11.9" height="11.9" fill="url(#bg13)"/><rect x="439" y="559.5" width="13" height="13" fill="url(#bg12)"/><rect x="439" y="559.5" width="13" height="13" fill="url(#capBTR)"/><rect x="439" y="559.5" width="13" height="13" fill="url(#capBBL)"/><rect x="452" y="572.5" width="13" height="13" fill="url(#bg12)"/><rect x="452" y="572.5" width="13" height="13" fill="url(#capBTR)"/><rect x="452" y="572.5" width="13" height="13" fill="url(#capBBL)"/><rect x="465" y="585.5" width="12.9" height="12.9" fill="url(#bg12)"/><rect x="465" y="585.5" width="12.9" height="12.9" fill="url(#capBTR)"/><rect x="465" y="585.5" width="12.9" height="12.9" fill="url(#capBBL)"/><rect x="477.9" y="598.4" width="13.6" height="13.6" fill="url(#bg11)"/><rect x="477.9" y="598.4" width="13.6" height="13.6" fill="url(#capBTR)"/><rect x="477.9" y="598.4" width="13.6" height="13.6" fill="url(#capBBL)"/><rect x="491.5" y="612" width="13" height="13" fill="url(#bg12)"/><rect x="491.5" y="612" width="13" height="13" fill="url(#capBTR)"/><rect x="491.5" y="612" width="13" height="13" fill="url(#capBBL)"/><rect x="504.5" y="625" width="12.9" height="12.9" fill="url(#bg12)"/><rect x="504.5" y="625" width="12.9" height="12.9" fill="url(#capBTR)"/><rect x="504.5" y="625" width="12.9" height="12.9" fill="url(#capBBL)"/><rect x="517.4" y="637.9" width="12.5" height="12.5" fill="url(#bg14)"/><rect x="517.4" y="637.9" width="12.5" height="12.5" fill="url(#capBTR)"/><rect x="517.4" y="637.9" width="12.5" height="12.5" fill="url(#capBBL)"/><rect x="529.9" y="650.4" width="12.4" height="12.4" fill="url(#bg14)"/><rect x="529.9" y="650.4" width="12.4" height="12.4" fill="url(#capBTR)"/><rect x="529.9" y="650.4" width="12.4" height="12.4" fill="url(#capBBL)"/><rect x="542.3" y="662.8" width="12.5" height="12.5" fill="url(#bg14)"/><rect x="542.3" y="662.8" width="12.5" height="12.5" fill="url(#capBTR)"/><rect x="542.3" y="662.8" width="12.5" height="12.5" fill="url(#capBBL)"/><rect x="554.8" y="675.3" width="11.4" height="11.4" fill="url(#bg15)"/><rect x="566.2" y="686.7" width="12.2" height="12.2" fill="url(#bg13)"/><rect x="566.2" y="686.7" width="12.2" height="12.2" fill="url(#capBTR)"/><rect x="566.2" y="686.7" width="12.2" height="12.2" fill="url(#capBBL)"/><rect x="578.4" y="698.9" width="11.9" height="11.9" fill="url(#bg13)"/><rect x="590.3" y="710.8" width="11.4" height="11.4" fill="url(#bg15)"/><rect x="601.7" y="722.2" width="11.9" height="11.9" fill="url(#bg13)"/><rect x="613.6" y="734.1" width="10.8" height="10.8" fill="url(#bg16)"/><rect x="624.4" y="744.9" width="11.4" height="11.4" fill="url(#bg15)"/><rect x="635.8" y="756.3" width="10.8" height="10.8" fill="url(#bg16)"/><rect x="646.6" y="767.1" width="10.8" height="10.8" fill="url(#bg16)"/><rect x="657.4" y="777.9" width="10.8" height="10.8" fill="url(#bg16)"/><rect x="668.2" y="788.7" width="10.8" height="10.8" fill="url(#bg16)"/><rect x="679" y="799.5" width="10.9" height="10.9" fill="url(#bg16)"/><rect x="689.9" y="810.4" width="10.8" height="10.8" fill="url(#bg16)"/><rect x="700.7" y="821.2" width="10.8" height="10.8" fill="url(#bg16)"/><rect x="711.5" y="832" width="10.8" height="10.8" fill="url(#bg16)"/><rect x="722.3" y="842.8" width="10.3" height="10.3" fill="url(#bg17)"/><rect x="732.6" y="853.1" width="10.2" height="10.2" fill="url(#bg18)"/><rect x="742.8" y="863.3" width="9.8" height="9.8" fill="url(#bg18)"/><rect x="752.6" y="873.1" width="9.5" height="9.5" fill="url(#bg19)"/><rect x="762.1" y="882.6" width="9.7" height="9.7" fill="url(#bg19)"/><rect x="771.8" y="892.3" width="9.8" height="9.8" fill="url(#bg18)"/><rect x="781.6" y="902.1" width="9" height="9" fill="url(#bg20)"/><rect x="790.6" y="911.1" width="9.1" height="9.1" fill="url(#bg20)"/><rect x="799.7" y="920.2" width="9.1" height="9.1" fill="url(#bg20)"/><rect x="808.8" y="929.3" width="9.1" height="9.1" fill="url(#bg20)"/><rect x="817.9" y="938.4" width="8.5" height="8.5" fill="url(#bg21)"/><rect x="826.4" y="946.9" width="9.1" height="9.1" fill="url(#bg20)"/><rect x="835.5" y="956" width="7.1" height="7.1" fill="url(#bg22)"/><rect x="842.6" y="963.1" width="7.1" height="7.1" fill="url(#bg22)"/><rect x="849.7" y="970.2" width="8.5" height="8.5" fill="url(#bg21)"/><rect x="858.2" y="978.7" width="7.8" height="7.8" fill="url(#bg23)"/><rect x="866" y="986.5" width="7.8" height="7.8" fill="url(#bg23)"/><rect x="873.8" y="994.3" width="8.4" height="8.4" fill="url(#bg21)"/><rect x="882.2" y="1002.7" width="7.8" height="7.8" fill="url(#bg23)"/><rect x="890" y="1010.5" width="7.1" height="7.1" fill="url(#bg22)"/><rect x="897.1" y="1017.6" width="7.2" height="7.2" fill="url(#bg22)"/><rect x="904.3" y="1024.8" width="7.8" height="7.8" fill="url(#bg23)"/><rect x="912.1" y="1032.6" width="7.1" height="7.1" fill="url(#bg22)"/><rect x="919.2" y="1039.7" width="6.5" height="6.5" fill="url(#bg24)"/><rect x="925.7" y="1046.2" width="5.9" height="5.9" fill="url(#bg25)"/><rect x="931.6" y="1052.1" width="5.8" height="5.8" fill="url(#bg25)"/><rect x="937.4" y="1057.9" width="5.2" height="5.2" fill="url(#bg26)"/><rect x="942.6" y="1063.1" width="5.2" height="5.2" fill="url(#bg26)"/><rect x="947.8" y="1068.3" width="5.2" height="5.2" fill="url(#bg26)"/><rect x="953" y="1073.5" width="5.2" height="5.2" fill="url(#bg26)"/><rect x="958.2" y="1078.7" width="1.68" height="1.68" fill="url(#bg27)"/><rect x="959.88" y="1080.38" width="1.6" height="1.6" fill="url(#bg27)"/><rect x="961.48" y="1081.98" width="1.52" height="1.52" fill="url(#bg27)"/><rect x="963.01" y="1083.51" width="1.44" height="1.44" fill="url(#bg27)"/><rect x="964.45" y="1084.95" width="1.36" height="1.36" fill="url(#bg27)"/><rect x="965.81" y="1086.31" width="1.28" height="1.28" fill="url(#bg27)"/><rect x="967.1" y="1087.6" width="1.2" height="1.2" fill="url(#bg28)"/><rect x="968.3" y="1088.8" width="1.12" height="1.12" fill="url(#bg28)"/><rect x="969.42" y="1089.92" width="1.04" height="1.04" fill="url(#bg28)"/><rect x="970.47" y="1090.97" width="0.97" height="0.97" fill="url(#bg28)"/><rect x="971.44" y="1091.94" width="0.89" height="0.89" fill="url(#bg28)"/><rect x="972.32" y="1092.82" width="0.81" height="0.81" fill="url(#bg28)"/><rect x="973.13" y="1093.63" width="0.73" height="0.73" fill="url(#bg29)"/><rect x="973.85" y="1094.35" width="0.65" height="0.65" fill="url(#bg29)"/></g>
</g>
<rect x="25.65" y="146.35" width="950.3" height="949.9" fill="none" stroke="#1c1819" stroke-width="2.7"/>
<text class="b" transform="translate(1.2 33) scale(1.09 1)">A</text>
<text x="114" y="33" class="t">Hi-C map for coccoid enriched culture</text>
<text x="29.6" y="135.8" class="s" letter-spacing="-0.65">Chr 1</text>
<text x="899.1" y="135.8" class="s">Chr 94</text>
<text class="s" letter-spacing="-0.85" transform="translate(19.5 213.7) rotate(-90)">Chr 1</text>
<text class="s" transform="translate(20 1096.6) rotate(-90)">Chr 94</text>
<text x="46" y="1080" class="s">Smic1.0; Bin size: 250 kb</text>
<g clip-path="url(#clip30)">
<rect x="1163.5" y="147.7" width="947.6" height="947.2" fill="#fefbf8"/>
<g filter="url(#soft)"><rect x="1157.8" y="143.5" width="27.1" height="27.1" fill="url(#bg2)"/><rect x="1157.8" y="143.5" width="27.1" height="27.1" fill="url(#capATR)"/><rect x="1157.8" y="143.5" width="27.1" height="27.1" fill="url(#capABL)"/><rect x="1184.9" y="170.6" width="18.9" height="18.9" fill="url(#bg3)"/><rect x="1184.9" y="170.6" width="18.9" height="18.9" fill="url(#capATR)"/><rect x="1184.9" y="170.6" width="18.9" height="18.9" fill="url(#capABL)"/><rect x="1203.8" y="189.5" width="18.4" height="18.4" fill="url(#bg4)"/><rect x="1203.8" y="189.5" width="18.4" height="18.4" fill="url(#capATR)"/><rect x="1203.8" y="189.5" width="18.4" height="18.4" fill="url(#capABL)"/><rect x="1222.2" y="207.9" width="18.4" height="18.4" fill="url(#bg4)"/><rect x="1222.2" y="207.9" width="18.4" height="18.4" fill="url(#capATR)"/><rect x="1222.2" y="207.9" width="18.4" height="18.4" fill="url(#capABL)"/><rect x="1240.6" y="226.3" width="17.9" height="17.9" fill="url(#bg5)"/><rect x="1240.6" y="226.3" width="17.9" height="17.9" fill="url(#capATR)"/><rect x="1240.6" y="226.3" width="17.9" height="17.9" fill="url(#capABL)"/><rect x="1258.5" y="244.2" width="17.8" height="17.8" fill="url(#bg5)"/><rect x="1258.5" y="244.2" width="17.8" height="17.8" fill="url(#capATR)"/><rect x="1258.5" y="244.2" width="17.8" height="17.8" fill="url(#capABL)"/><rect x="1276.3" y="262" width="17.9" height="17.9" fill="url(#bg5)"/><rect x="1276.3" y="262" width="17.9" height="17.9" fill="url(#capATR)"/><rect x="1276.3" y="262" width="17.9" height="17.9" fill="url(#capABL)"/><rect x="1294.2" y="279.9" width="17.9" height="17.9" fill="url(#bg5)"/><rect x="1294.2" y="279.9" width="17.9" height="17.9" fill="url(#capATR)"/><rect x="1294.2" y="279.9" width="17.9" height="17.9" fill="url(#capABL)"/><rect x="1312.1" y="297.8" width="15.7" height="15.7" fill="url(#bg6)"/><rect x="1312.1" y="297.8" width="15.7" height="15.7" fill="url(#capBTR)"/><rect x="1312.1" y="297.8" width="15.7" height="15.7" fill="url(#capBBL)"/><rect x="1327.8" y="313.5" width="16.2" height="16.2" fill="url(#bg7)"/><rect x="1327.8" y="313.5" width="16.2" height="16.2" fill="url(#capBTR)"/><rect x="1327.8" y="313.5" width="16.2" height="16.2" fill="url(#capBBL)"/><rect x="1344" y="329.7" width="15.3" height="15.3" fill="url(#bg6)"/><rect x="1344" y="329.7" width="15.3" height="15.3" fill="url(#capBTR)"/><rect x="1344" y="329.7" width="15.3" height="15.3" fill="url(#capBBL)"/><rect x="1359.3" y="345" width="15.7" height="15.7" fill="url(#bg6)"/><rect x="1359.3" y="345" width="15.7" height="15.7" fill="url(#capBTR)"/><rect x="1359.3" y="345" width="15.7" height="15.7" fill="url(#capBBL)"/><rect x="1375" y="360.7" width="15.7" height="15.7" fill="url(#bg6)"/><rect x="1375" y="360.7" width="15.7" height="15.7" fill="url(#capBTR)"/><rect x="1375" y="360.7" width="15.7" height="15.7" fill="url(#capBBL)"/><rect x="1390.7" y="376.4" width="15.1" height="15.1" fill="url(#bg8)"/><rect x="1390.7" y="376.4" width="15.1" height="15.1" fill="url(#capBTR)"/><rect x="1390.7" y="376.4" width="15.1" height="15.1" fill="url(#capBBL)"/><rect x="1405.8" y="391.5" width="14.6" height="14.6" fill="url(#bg9)"/><rect x="1405.8" y="391.5" width="14.6" height="14.6" fill="url(#capBTR)"/><rect x="1405.8" y="391.5" width="14.6" height="14.6" fill="url(#capBBL)"/><rect x="1420.4" y="406.1" width="14.6" height="14.6" fill="url(#bg9)"/><rect x="1420.4" y="406.1" width="14.6" height="14.6" fill="url(#capBTR)"/><rect x="1420.4" y="406.1" width="14.6" height="14.6" fill="url(#capBBL)"/><rect x="1435" y="420.7" width="14.6" height="14.6" fill="url(#bg9)"/><rect x="1435" y="420.7" width="14.6" height="14.6" fill="url(#capBTR)"/><rect x="1435" y="420.7" width="14.6" height="14.6" fill="url(#capBBL)"/><rect x="1449.6" y="435.3" width="14.7" height="14.7" fill="url(#bg9)"/><rect x="1449.6" y="435.3" width="14.7" height="14.7" fill="url(#capBTR)"/><rect x="1449.6" y="435.3" width="14.7" height="14.7" fill="url(#capBBL)"/><rect x="1464.3" y="450" width="14" height="14" fill="url(#bg10)"/><rect x="1464.3" y="450" width="14" height="14" fill="url(#capBTR)"/><rect x="1464.3" y="450" width="14" height="14" fill="url(#capBBL)"/><rect x="1478.3" y="464" width="14.6" height="14.6" fill="url(#bg9)"/><rect x="1478.3" y="464" width="14.6" height="14.6" fill="url(#capBTR)"/><rect x="1478.3" y="464" width="14.6" height="14.6" fill="url(#capBBL)"/><rect x="1492.9" y="478.6" width="13.6" height="13.6" fill="url(#bg11)"/><rect x="1492.9" y="478.6" width="13.6" height="13.6" fill="url(#capBTR)"/><rect x="1492.9" y="478.6" width="13.6" height="13.6" fill="url(#capBBL)"/><rect x="1506.5" y="492.2" width="13.8" height="13.8" fill="url(#bg10)"/><rect x="1506.5" y="492.2" width="13.8" height="13.8" fill="url(#capBTR)"/><rect x="1506.5" y="492.2" width="13.8" height="13.8" fill="url(#capBBL)"/><rect x="1520.3" y="506" width="13" height="13" fill="url(#bg12)"/><rect x="1520.3" y="506" width="13" height="13" fill="url(#capBTR)"/><rect x="1520.3" y="506" width="13" height="13" fill="url(#capBBL)"/><rect x="1533.3" y="519" width="13.5" height="13.5" fill="url(#bg11)"/><rect x="1533.3" y="519" width="13.5" height="13.5" fill="url(#capBTR)"/><rect x="1533.3" y="519" width="13.5" height="13.5" fill="url(#capBBL)"/><rect x="1546.8" y="532.5" width="13.6" height="13.6" fill="url(#bg11)"/><rect x="1546.8" y="532.5" width="13.6" height="13.6" fill="url(#capBTR)"/><rect x="1546.8" y="532.5" width="13.6" height="13.6" fill="url(#capBBL)"/><rect x="1560.4" y="546.1" width="11.9" height="11.9" fill="url(#bg13)"/><rect x="1572.3" y="558" width="13" height="13" fill="url(#bg12)"/><rect x="1572.3" y="558" width="13" height="13" fill="url(#capBTR)"/><rect x="1572.3" y="558" width="13" height="13" fill="url(#capBBL)"/><rect x="1585.3" y="571" width="13" height="13" fill="url(#bg12)"/><rect x="1585.3" y="571" width="13" height="13" fill="url(#capBTR)"/><rect x="1585.3" y="571" width="13" height="13" fill="url(#capBBL)"/><rect x="1598.3" y="584" width="12.9" height="12.9" fill="url(#bg12)"/><rect x="1598.3" y="584" width="12.9" height="12.9" fill="url(#capBTR)"/><rect x="1598.3" y="584" width="12.9" height="12.9" fill="url(#capBBL)"/><rect x="1611.2" y="596.9" width="13.6" height="13.6" fill="url(#bg11)"/><rect x="1611.2" y="596.9" width="13.6" height="13.6" fill="url(#capBTR)"/><rect x="1611.2" y="596.9" width="13.6" height="13.6" fill="url(#capBBL)"/><rect x="1624.8" y="610.5" width="13" height="13" fill="url(#bg12)"/><rect x="1624.8" y="610.5" width="13" height="13" fill="url(#capBTR)"/><rect x="1624.8" y="610.5" width="13" height="13" fill="url(#capBBL)"/><rect x="1637.8" y="623.5" width="12.9" height="12.9" fill="url(#bg12)"/><rect x="1637.8" y="623.5" width="12.9" height="12.9" fill="url(#capBTR)"/><rect x="1637.8" y="623.5" width="12.9" height="12.9" fill="url(#capBBL)"/><rect x="1650.7" y="636.4" width="12.5" height="12.5" fill="url(#bg14)"/><rect x="1650.7" y="636.4" width="12.5" height="12.5" fill="url(#capBTR)"/><rect x="1650.7" y="636.4" width="12.5" height="12.5" fill="url(#capBBL)"/><rect x="1663.2" y="648.9" width="12.4" height="12.4" fill="url(#bg14)"/><rect x="1663.2" y="648.9" width="12.4" height="12.4" fill="url(#capBTR)"/><rect x="1663.2" y="648.9" width="12.4" height="12.4" fill="url(#capBBL)"/><rect x="1675.6" y="661.3" width="12.5" height="12.5" fill="url(#bg14)"/><rect x="1675.6" y="661.3" width="12.5" height="12.5" fill="url(#capBTR)"/><rect x="1675.6" y="661.3" width="12.5" height="12.5" fill="url(#capBBL)"/><rect x="1688.1" y="673.8" width="11.4" height="11.4" fill="url(#bg15)"/><rect x="1699.5" y="685.2" width="12.2" height="12.2" fill="url(#bg13)"/><rect x="1699.5" y="685.2" width="12.2" height="12.2" fill="url(#capBTR)"/><rect x="1699.5" y="685.2" width="12.2" height="12.2" fill="url(#capBBL)"/><rect x="1711.7" y="697.4" width="11.9" height="11.9" fill="url(#bg13)"/><rect x="1723.6" y="709.3" width="11.4" height="11.4" fill="url(#bg15)"/><rect x="1735" y="720.7" width="11.9" height="11.9" fill="url(#bg13)"/><rect x="1746.9" y="732.6" width="10.8" height="10.8" fill="url(#bg16)"/><rect x="1757.7" y="743.4" width="11.4" height="11.4" fill="url(#bg15)"/><rect x="1769.1" y="754.8" width="10.8" height="10.8" fill="url(#bg16)"/><rect x="1779.9" y="765.6" width="10.8" height="10.8" fill="url(#bg16)"/><rect x="1790.7" y="776.4" width="10.8" height="10.8" fill="url(#bg16)"/><rect x="1801.5" y="787.2" width="10.8" height="10.8" fill="url(#bg16)"/><rect x="1812.3" y="798" width="10.9" height="10.9" fill="url(#bg16)"/><rect x="1823.2" y="808.9" width="10.8" height="10.8" fill="url(#bg16)"/><rect x="1834" y="819.7" width="10.8" height="10.8" fill="url(#bg16)"/><rect x="1844.8" y="830.5" width="10.8" height="10.8" fill="url(#bg16)"/><rect x="1855.6" y="841.3" width="10.3" height="10.3" fill="url(#bg17)"/><rect x="1865.9" y="851.6" width="10.2" height="10.2" fill="url(#bg18)"/><rect x="1876.1" y="861.8" width="9.8" height="9.8" fill="url(#bg18)"/><rect x="1885.9" y="871.6" width="9.5" height="9.5" fill="url(#bg19)"/><rect x="1895.4" y="881.1" width="9.7" height="9.7" fill="url(#bg19)"/><rect x="1905.1" y="890.8" width="9.8" height="9.8" fill="url(#bg18)"/><rect x="1914.9" y="900.6" width="9" height="9" fill="url(#bg20)"/><rect x="1923.9" y="909.6" width="9.1" height="9.1" fill="url(#bg20)"/><rect x="1933" y="918.7" width="9.1" height="9.1" fill="url(#bg20)"/><rect x="1942.1" y="927.8" width="9.1" height="9.1" fill="url(#bg20)"/><rect x="1951.2" y="936.9" width="8.5" height="8.5" fill="url(#bg21)"/><rect x="1959.7" y="945.4" width="9.1" height="9.1" fill="url(#bg20)"/><rect x="1968.8" y="954.5" width="7.1" height="7.1" fill="url(#bg22)"/><rect x="1975.9" y="961.6" width="7.1" height="7.1" fill="url(#bg22)"/><rect x="1983" y="968.7" width="8.5" height="8.5" fill="url(#bg21)"/><rect x="1991.5" y="977.2" width="7.8" height="7.8" fill="url(#bg23)"/><rect x="1999.3" y="985" width="7.8" height="7.8" fill="url(#bg23)"/><rect x="2007.1" y="992.8" width="8.4" height="8.4" fill="url(#bg21)"/><rect x="2015.5" y="1001.2" width="7.8" height="7.8" fill="url(#bg23)"/><rect x="2023.3" y="1009" width="7.1" height="7.1" fill="url(#bg22)"/><rect x="2030.4" y="1016.1" width="7.2" height="7.2" fill="url(#bg22)"/><rect x="2037.6" y="1023.3" width="7.8" height="7.8" fill="url(#bg23)"/><rect x="2045.4" y="1031.1" width="7.1" height="7.1" fill="url(#bg22)"/><rect x="2052.5" y="1038.2" width="6.5" height="6.5" fill="url(#bg24)"/><rect x="2059" y="1044.7" width="5.9" height="5.9" fill="url(#bg25)"/><rect x="2064.9" y="1050.6" width="5.8" height="5.8" fill="url(#bg25)"/><rect x="2070.7" y="1056.4" width="5.2" height="5.2" fill="url(#bg26)"/><rect x="2075.9" y="1061.6" width="5.2" height="5.2" fill="url(#bg26)"/><rect x="2081.1" y="1066.8" width="5.2" height="5.2" fill="url(#bg26)"/><rect x="2086.3" y="1072" width="5.2" height="5.2" fill="url(#bg26)"/><rect x="2091.5" y="1077.2" width="1.68" height="1.68" fill="url(#bg27)"/><rect x="2093.18" y="1078.88" width="1.6" height="1.6" fill="url(#bg27)"/><rect x="2094.78" y="1080.48" width="1.52" height="1.52" fill="url(#bg27)"/><rect x="2096.31" y="1082.01" width="1.44" height="1.44" fill="url(#bg27)"/><rect x="2097.75" y="1083.45" width="1.36" height="1.36" fill="url(#bg27)"/><rect x="2099.11" y="1084.81" width="1.28" height="1.28" fill="url(#bg27)"/><rect x="2100.4" y="1086.1" width="1.2" height="1.2" fill="url(#bg28)"/><rect x="2101.6" y="1087.3" width="1.12" height="1.12" fill="url(#bg28)"/><rect x="2102.72" y="1088.42" width="1.04" height="1.04" fill="url(#bg28)"/><rect x="2103.77" y="1089.47" width="0.97" height="0.97" fill="url(#bg28)"/><rect x="2104.74" y="1090.44" width="0.89" height="0.89" fill="url(#bg28)"/><rect x="2105.62" y="1091.32" width="0.81" height="0.81" fill="url(#bg28)"/><rect x="2106.43" y="1092.13" width="0.73" height="0.73" fill="url(#bg29)"/><rect x="2107.15" y="1092.85" width="0.65" height="0.65" fill="url(#bg29)"/></g>
</g>
<rect x="1162.15" y="146.35" width="950.3" height="949.9" fill="none" stroke="#1c1819" stroke-width="2.7"/>
<text x="1120.7" y="33" class="b">B</text>
<text x="1196.2" y="33" class="t">Hi-C map for mastigote enriched culture</text>
<text x="1166.1" y="135.8" class="s" letter-spacing="-0.65">Chr 1</text>
<text x="2035.6" y="135.8" class="s">Chr 94</text>
<text class="s" letter-spacing="-0.85" transform="translate(1156 213.7) rotate(-90)">Chr 1</text>
<text class="s" transform="translate(1156.5 1096.6) rotate(-90)">Chr 94</text>
<text x="1182.5" y="1080" class="s">Smic1.0; Bin size: 250 kb</text>
<rect x="1996.35" y="76.45" width="105.6" height="17.5" fill="url(#cbg)" stroke="#1c1819" stroke-width="2.5"/>
<text x="1989.5" y="70" class="s">0</text>
<text x="2039" y="70" class="s">0.012</text>
<g clip-path="url(#cclip31)"><g filter="url(#soft)"><rect x="311.5" y="1306.3" width="68.9" height="96.94" fill="#f2ac3c"/><rect x="380" y="1306.3" width="54" height="96.94" fill="#f5c266"/><rect x="433.6" y="1306.3" width="52.6" height="96.94" fill="#f6c672"/><rect x="485.8" y="1306.3" width="71.2" height="96.94" fill="#f6ca80"/><rect x="556.6" y="1306.3" width="44.2" height="96.94" fill="#fbe7c6"/><rect x="600.4" y="1306.3" width="78.5" height="96.94" fill="#fcecd2"/><rect x="678.5" y="1306.3" width="34.3" height="96.94" fill="#fef3e6"/><rect x="712.4" y="1306.3" width="88.1" height="96.94" fill="#fef9f4"/><rect x="215.3" y="1402.84" width="96.6" height="69.14" fill="#f2ac3c"/><rect x="380" y="1402.84" width="54" height="69.14" fill="#f5c060"/><rect x="433.6" y="1402.84" width="52.6" height="69.14" fill="#f6c470"/><rect x="485.8" y="1402.84" width="71.2" height="69.14" fill="#f6c880"/><rect x="556.6" y="1402.84" width="44.2" height="69.14" fill="#f9dcaa"/><rect x="600.4" y="1402.84" width="78.5" height="69.14" fill="#f9dcaa"/><rect x="678.5" y="1402.84" width="34.3" height="69.14" fill="#fbe4bf"/><rect x="712.4" y="1402.84" width="88.1" height="69.14" fill="#fdf3e6"/><rect x="215.3" y="1471.58" width="96.6" height="54.19" fill="#f7cd85"/><rect x="311.5" y="1471.58" width="68.9" height="54.19" fill="#f5c468"/><rect x="433.6" y="1471.58" width="52.6" height="54.19" fill="#f0a030"/><rect x="485.8" y="1471.58" width="71.2" height="54.19" fill="#f6c478"/><rect x="556.6" y="1471.58" width="44.2" height="54.19" fill="#f9dcaa"/><rect x="600.4" y="1471.58" width="78.5" height="54.19" fill="#f9dcaa"/><rect x="678.5" y="1471.58" width="34.3" height="54.19" fill="#fbe2b8"/><rect x="712.4" y="1471.58" width="88.1" height="54.19" fill="#fdf0e0"/><rect x="215.3" y="1525.37" width="96.6" height="52.78" fill="#f7cd85"/><rect x="311.5" y="1525.37" width="68.9" height="52.78" fill="#f6c878"/><rect x="380" y="1525.37" width="54" height="52.78" fill="#f0a030"/><rect x="485.8" y="1525.37" width="71.2" height="52.78" fill="#f2aa3e"/><rect x="556.6" y="1525.37" width="44.2" height="52.78" fill="#f6d08e"/><rect x="600.4" y="1525.37" width="78.5" height="52.78" fill="#f7d498"/><rect x="678.5" y="1525.37" width="34.3" height="52.78" fill="#f9dcaa"/><rect x="712.4" y="1525.37" width="88.1" height="52.78" fill="#fce8cc"/><rect x="215.3" y="1577.75" width="96.6" height="71.45" fill="#f7c97c"/><rect x="311.5" y="1577.75" width="68.9" height="71.45" fill="#f6c477"/><rect x="380" y="1577.75" width="54" height="71.45" fill="#f5c070"/><rect x="433.6" y="1577.75" width="52.6" height="71.45" fill="#f2b040"/><rect x="556.6" y="1577.75" width="44.2" height="71.45" fill="#f3b44a"/><rect x="600.4" y="1577.75" width="78.5" height="71.45" fill="#f5c068"/><rect x="678.5" y="1577.75" width="34.3" height="71.45" fill="#f7cc80"/><rect x="712.4" y="1577.75" width="88.1" height="71.45" fill="#fae0b8"/><rect x="215.3" y="1648.8" width="96.6" height="44.35" fill="#fbe3bd"/><rect x="311.5" y="1648.8" width="68.9" height="44.35" fill="#f9d9a5"/><rect x="380" y="1648.8" width="54" height="44.35" fill="#f7cf8e"/><rect x="433.6" y="1648.8" width="52.6" height="44.35" fill="#f5c060"/><rect x="485.8" y="1648.8" width="71.2" height="44.35" fill="#f3b448"/><rect x="600.4" y="1648.8" width="78.5" height="44.35" fill="#f0a838"/><rect x="678.5" y="1648.8" width="34.3" height="44.35" fill="#f2b448"/><rect x="712.4" y="1648.8" width="88.1" height="44.35" fill="#f4c060"/><rect x="215.3" y="1692.75" width="96.6" height="78.77" fill="#fbe2b8"/><rect x="311.5" y="1692.75" width="68.9" height="78.77" fill="#f9d7a0"/><rect x="380" y="1692.75" width="54" height="78.77" fill="#f7cf8e"/><rect x="433.6" y="1692.75" width="52.6" height="78.77" fill="#f6c878"/><rect x="485.8" y="1692.75" width="71.2" height="78.77" fill="#f5c06a"/><rect x="556.6" y="1692.75" width="44.2" height="78.77" fill="#f0a838"/><rect x="678.5" y="1692.75" width="34.3" height="78.77" fill="#f0a030"/><rect x="712.4" y="1692.75" width="88.1" height="78.77" fill="#f2b044"/><rect x="215.3" y="1771.13" width="96.6" height="34.42" fill="#fce6c4"/><rect x="311.5" y="1771.13" width="68.9" height="34.42" fill="#fadcae"/><rect x="380" y="1771.13" width="54" height="34.42" fill="#f8d49c"/><rect x="433.6" y="1771.13" width="52.6" height="34.42" fill="#f8d090"/><rect x="485.8" y="1771.13" width="71.2" height="34.42" fill="#f6c878"/><rect x="556.6" y="1771.13" width="44.2" height="34.42" fill="#f2b040"/><rect x="600.4" y="1771.13" width="78.5" height="34.42" fill="#f0a030"/><rect x="712.4" y="1771.13" width="88.1" height="34.42" fill="#ef9c32"/><rect x="215.3" y="1805.14" width="96.6" height="88.41" fill="#fef5ea"/><rect x="311.5" y="1805.14" width="68.9" height="88.41" fill="#fdf0de"/><rect x="380" y="1805.14" width="54" height="88.41" fill="#fcebd2"/><rect x="433.6" y="1805.14" width="52.6" height="88.41" fill="#fbe6c8"/><rect x="485.8" y="1805.14" width="71.2" height="88.41" fill="#f9dcaa"/><rect x="556.6" y="1805.14" width="44.2" height="88.41" fill="#f2b448"/><rect x="600.4" y="1805.14" width="78.5" height="88.41" fill="#f2ae40"/><rect x="678.5" y="1805.14" width="34.3" height="88.41" fill="#ef9c34"/><rect x="215.3" y="1306.3" width="96.5" height="96.84" fill="url(#cg32)"/><rect x="311.5" y="1402.84" width="68.8" height="69.04" fill="url(#cg33)"/><rect x="380" y="1471.58" width="53.9" height="54.09" fill="url(#cg34)"/><rect x="433.6" y="1525.37" width="52.5" height="52.68" fill="url(#cg35)"/><rect x="485.8" y="1577.75" width="71.1" height="71.35" fill="url(#cg36)"/><rect x="556.6" y="1648.8" width="44.1" height="44.25" fill="url(#cg37)"/><rect x="600.4" y="1692.75" width="78.4" height="78.67" fill="url(#cg38)"/><rect x="678.5" y="1771.13" width="34.2" height="34.32" fill="url(#cg39)"/><rect x="712.4" y="1805.14" width="88" height="88.31" fill="url(#cg40)"/>
<rect x="215.3" y="1306.4" width="96" height="6" fill="#e8642e" opacity="0.5"/>
<rect x="215.3" y="1306.4" width="6" height="95" fill="#e8642e" opacity="0.5"/>
<ellipse cx="223.0" cy="1314.0" rx="7.0" ry="4.5" fill="#440608" opacity="1.00" transform="rotate(45 223.0 1314.0)" filter="url(#blur2)"/>
<ellipse cx="237.0" cy="1328.1" rx="7.0" ry="4.5" fill="#440608" opacity="1.00" transform="rotate(45 237.0 1328.1)" filter="url(#blur2)"/>
<ellipse cx="257.0" cy="1348.2" rx="11.0" ry="7.0" fill="#440608" opacity="1.00" transform="rotate(45 257.0 1348.2)" filter="url(#blur2)"/>
<ellipse cx="268.0" cy="1359.2" rx="7.0" ry="4.5" fill="#440608" opacity="1.00" transform="rotate(45 268.0 1359.2)" filter="url(#blur2)"/>
<ellipse cx="284.0" cy="1375.2" rx="8.0" ry="3.5" fill="#440608" opacity="1.00" transform="rotate(45 284.0 1375.2)" filter="url(#blur2)"/>
<ellipse cx="299.0" cy="1390.3" rx="8.0" ry="3.0" fill="#440608" opacity="1.00" transform="rotate(45 299.0 1390.3)" filter="url(#blur2)"/>
<ellipse cx="722.0" cy="1814.8" rx="9.0" ry="5.0" fill="#440608" opacity="1.00" transform="rotate(45 722.0 1814.8)" filter="url(#blur2)"/>
<ellipse cx="736.0" cy="1828.8" rx="9.0" ry="6.5" fill="#440608" opacity="1.00" transform="rotate(45 736.0 1828.8)" filter="url(#blur2)"/>
<ellipse cx="748.0" cy="1840.9" rx="10.0" ry="9.0" fill="#440608" opacity="1.00" transform="rotate(45 748.0 1840.9)" filter="url(#blur2)"/>
<ellipse cx="762.0" cy="1854.9" rx="9.0" ry="7.0" fill="#440608" opacity="1.00" transform="rotate(45 762.0 1854.9)" filter="url(#blur2)"/>
<ellipse cx="774.0" cy="1867.0" rx="9.0" ry="7.5" fill="#440608" opacity="1.00" transform="rotate(45 774.0 1867.0)" filter="url(#blur2)"/>
<ellipse cx="787.0" cy="1880.0" rx="9.0" ry="7.0" fill="#440608" opacity="1.00" transform="rotate(45 787.0 1880.0)" filter="url(#blur2)"/>
<ellipse cx="797.0" cy="1890.0" rx="6.0" ry="6.0" fill="#440608" opacity="1.00" transform="rotate(45 797.0 1890.0)" filter="url(#blur2)"/>
</g></g>
<rect x="212.4" y="1301.4" width="3.2" height="589.9" fill="#fdf6f0"/>
<rect x="212" y="1303.4" width="588.1" height="3.2" fill="#fdf6f0"/>
<rect x="432.2" y="1301.4" width="2.8" height="589.9" fill="#fdf6f0"/>
<rect x="212" y="1523.2" width="588.1" height="2.8" fill="#fdf6f0"/>
<rect x="531.3" y="1301.4" width="2.8" height="589.9" fill="#fdf6f0"/>
<rect x="212" y="1623" width="588.1" height="2.8" fill="#fdf6f0"/>
<rect x="777.1" y="1301.4" width="2.8" height="589.9" fill="#fdf6f0"/>
<rect x="212" y="1870.6" width="588.1" height="2.8" fill="#fdf6f0"/>
<rect x="210.65" y="1299.85" width="590.7" height="593" fill="none" stroke="#1c1819" stroke-width="2.9"/>
<rect x="190.1" y="1312" width="2.8" height="569" fill="#1c1819"/>
<path d="M191.5 1297.3L182.1 1314L200.9 1314Z" fill="#1c1819"/>
<path d="M191.5 1895.3L182.1 1879.2L200.9 1879.2Z" fill="#1c1819"/>
<text x="27.5" y="1260.5" class="b">C</text>
<text x="129" y="1263" class="t">Hi-C map for coccoid enriched culture</text>
<text class="s" transform="translate(170.5 1600.4) rotate(-90)">11.9 Mb</text>
<text x="226" y="1867.7" class="s">Smic1.0; Bin size: 50 kb</text>
<rect x="836.95" y="1848.45" width="105.3" height="16.8" fill="url(#cbg)" stroke="#1c1819" stroke-width="2.5"/>
<text x="830" y="1842" class="s">0</text>
<text x="879.8" y="1841.6" class="s">0.012</text>
<text x="827.3" y="1894.8" class="s">Hi-C count</text>
<text x="351" y="1951.5" class="t">Chromosome 4</text>
<g clip-path="url(#cclip41)"><g filter="url(#soft)"><rect x="1442.4" y="1305.4" width="69.1" height="95.96" fill="#f5c060"/><rect x="1511.1" y="1305.4" width="54.5" height="95.96" fill="#f7d08a"/><rect x="1565.2" y="1305.4" width="52" height="95.96" fill="#f7d290"/><rect x="1616.8" y="1305.4" width="70.9" height="95.96" fill="#f8d498"/><rect x="1687.3" y="1305.4" width="42.6" height="95.96" fill="#fdf0dc"/><rect x="1729.5" y="1305.4" width="79.2" height="95.96" fill="#fdf0dc"/><rect x="1808.3" y="1305.4" width="34.1" height="95.96" fill="#fef6ec"/><rect x="1842" y="1305.4" width="90.8" height="95.96" fill="#fef9f4"/><rect x="1347.6" y="1400.96" width="95.2" height="69.65" fill="#f5c060"/><rect x="1511.1" y="1400.96" width="54.5" height="69.65" fill="#f7d08c"/><rect x="1565.2" y="1400.96" width="52" height="69.65" fill="#f7d08c"/><rect x="1616.8" y="1400.96" width="70.9" height="69.65" fill="#f7ca80"/><rect x="1687.3" y="1400.96" width="42.6" height="69.65" fill="#f9dcaa"/><rect x="1729.5" y="1400.96" width="79.2" height="69.65" fill="#f9dcaa"/><rect x="1808.3" y="1400.96" width="34.1" height="69.65" fill="#fce8cc"/><rect x="1842" y="1400.96" width="90.8" height="69.65" fill="#fef5ec"/><rect x="1347.6" y="1470.21" width="95.2" height="54.93" fill="#f8d699"/><rect x="1442.4" y="1470.21" width="69.1" height="54.93" fill="#f7d08c"/><rect x="1565.2" y="1470.21" width="52" height="54.93" fill="#f2ac40"/><rect x="1616.8" y="1470.21" width="70.9" height="54.93" fill="#f6c478"/><rect x="1687.3" y="1470.21" width="42.6" height="54.93" fill="#f8d8a0"/><rect x="1729.5" y="1470.21" width="79.2" height="54.93" fill="#f8d8a0"/><rect x="1808.3" y="1470.21" width="34.1" height="54.93" fill="#fbe6c4"/><rect x="1842" y="1470.21" width="90.8" height="54.93" fill="#fdf1e2"/><rect x="1347.6" y="1524.74" width="95.2" height="52.41" fill="#f8d699"/><rect x="1442.4" y="1524.74" width="69.1" height="52.41" fill="#f7d090"/><rect x="1511.1" y="1524.74" width="54.5" height="52.41" fill="#f2ac40"/><rect x="1616.8" y="1524.74" width="70.9" height="52.41" fill="#f3b050"/><rect x="1687.3" y="1524.74" width="42.6" height="52.41" fill="#f5c470"/><rect x="1729.5" y="1524.74" width="79.2" height="52.41" fill="#f7d090"/><rect x="1808.3" y="1524.74" width="34.1" height="52.41" fill="#f9dcaa"/><rect x="1842" y="1524.74" width="90.8" height="52.41" fill="#fbe8cc"/><rect x="1347.6" y="1576.75" width="95.2" height="71.46" fill="#f8d496"/><rect x="1442.4" y="1576.75" width="69.1" height="71.46" fill="#f7cc82"/><rect x="1511.1" y="1576.75" width="54.5" height="71.46" fill="#f6c87c"/><rect x="1565.2" y="1576.75" width="52" height="71.46" fill="#f6c87c"/><rect x="1687.3" y="1576.75" width="42.6" height="71.46" fill="#f6c470"/><rect x="1729.5" y="1576.75" width="79.2" height="71.46" fill="#f7d08a"/><rect x="1808.3" y="1576.75" width="34.1" height="71.46" fill="#f8d498"/><rect x="1842" y="1576.75" width="90.8" height="71.46" fill="#fce8c8"/><rect x="1347.6" y="1647.82" width="95.2" height="42.94" fill="#f8dcb0"/><rect x="1442.4" y="1647.82" width="69.1" height="42.94" fill="#f8d8a4"/><rect x="1511.1" y="1647.82" width="54.5" height="42.94" fill="#f8d49c"/><rect x="1565.2" y="1647.82" width="52" height="42.94" fill="#f8d49c"/><rect x="1616.8" y="1647.82" width="70.9" height="42.94" fill="#f6c878"/><rect x="1729.5" y="1647.82" width="79.2" height="42.94" fill="#f6c878"/><rect x="1808.3" y="1647.82" width="34.1" height="42.94" fill="#f7cc80"/><rect x="1842" y="1647.82" width="90.8" height="42.94" fill="#f8d8a0"/><rect x="1347.6" y="1690.36" width="95.2" height="79.83" fill="#fbe6c8"/><rect x="1442.4" y="1690.36" width="69.1" height="79.83" fill="#f8d8a4"/><rect x="1511.1" y="1690.36" width="54.5" height="79.83" fill="#f8d49c"/><rect x="1565.2" y="1690.36" width="52" height="79.83" fill="#f8d49c"/><rect x="1616.8" y="1690.36" width="70.9" height="79.83" fill="#f7d08c"/><rect x="1687.3" y="1690.36" width="42.6" height="79.83" fill="#f6c470"/><rect x="1808.3" y="1690.36" width="34.1" height="79.83" fill="#f6c878"/><rect x="1842" y="1690.36" width="90.8" height="79.83" fill="#f7cc80"/><rect x="1347.6" y="1769.79" width="95.2" height="34.37" fill="#fbe8cc"/><rect x="1442.4" y="1769.79" width="69.1" height="34.37" fill="#f8d8a4"/><rect x="1511.1" y="1769.79" width="54.5" height="34.37" fill="#f8d49c"/><rect x="1565.2" y="1769.79" width="52" height="34.37" fill="#f8d49c"/><rect x="1616.8" y="1769.79" width="70.9" height="34.37" fill="#f7d090"/><rect x="1687.3" y="1769.79" width="42.6" height="34.37" fill="#f6c878"/><rect x="1729.5" y="1769.79" width="79.2" height="34.37" fill="#f5c068"/><rect x="1842" y="1769.79" width="90.8" height="34.37" fill="#f2ac3c"/><rect x="1347.6" y="1803.76" width="95.2" height="91.52" fill="#fdf3e8"/><rect x="1442.4" y="1803.76" width="69.1" height="91.52" fill="#fcecd8"/><rect x="1511.1" y="1803.76" width="54.5" height="91.52" fill="#fbe6c8"/><rect x="1565.2" y="1803.76" width="52" height="91.52" fill="#fbe6c8"/><rect x="1616.8" y="1803.76" width="70.9" height="91.52" fill="#fae2bc"/><rect x="1687.3" y="1803.76" width="42.6" height="91.52" fill="#f7d090"/><rect x="1729.5" y="1803.76" width="79.2" height="91.52" fill="#f6c878"/><rect x="1808.3" y="1803.76" width="34.1" height="91.52" fill="#f2b040"/><rect x="1347.6" y="1305.4" width="95.1" height="95.86" fill="url(#cg42)"/><rect x="1442.4" y="1400.96" width="69" height="69.55" fill="url(#cg43)"/><rect x="1511.1" y="1470.21" width="54.4" height="54.83" fill="url(#cg44)"/><rect x="1565.2" y="1524.74" width="51.9" height="52.31" fill="url(#cg45)"/><rect x="1616.8" y="1576.75" width="70.8" height="71.36" fill="url(#cg46)"/><rect x="1687.3" y="1647.82" width="42.5" height="42.84" fill="url(#cg47)"/><rect x="1729.5" y="1690.36" width="79.1" height="79.73" fill="url(#cg48)"/><rect x="1808.3" y="1769.79" width="34" height="34.27" fill="url(#cg49)"/><rect x="1842" y="1803.76" width="90.7" height="91.42" fill="url(#cg50)"/>
<rect x="1347.6" y="1305.4" width="12.5" height="95.6" fill="#ee8a30"/>
<rect x="1347.6" y="1305.4" width="94.8" height="12.8" fill="#ec7a2e"/>
<rect x="1347.6" y="1305.4" width="12.5" height="12.8" fill="#4a0a0c"/>
<ellipse cx="1366.0" cy="1323.9" rx="7.0" ry="4.5" fill="#440608" opacity="1.00" transform="rotate(45 1366.0 1323.9)" filter="url(#blur2)"/>
<ellipse cx="1380.0" cy="1338.1" rx="8.0" ry="4.5" fill="#440608" opacity="1.00" transform="rotate(45 1380.0 1338.1)" filter="url(#blur2)"/>
<ellipse cx="1394.0" cy="1352.2" rx="7.0" ry="3.5" fill="#440608" opacity="1.00" transform="rotate(45 1394.0 1352.2)" filter="url(#blur2)"/>
<ellipse cx="1874.0" cy="1836.0" rx="8.0" ry="6.0" fill="#440608" opacity="1.00" transform="rotate(45 1874.0 1836.0)" filter="url(#blur2)"/>
<ellipse cx="1891.5" cy="1853.7" rx="9.0" ry="7.5" fill="#440608" opacity="1.00" transform="rotate(45 1891.5 1853.7)" filter="url(#blur2)"/>
<ellipse cx="1906.0" cy="1868.3" rx="7.0" ry="6.0" fill="#440608" opacity="1.00" transform="rotate(45 1906.0 1868.3)" filter="url(#blur2)"/>
<ellipse cx="1916.0" cy="1878.3" rx="7.0" ry="6.5" fill="#440608" opacity="1.00" transform="rotate(45 1916.0 1878.3)" filter="url(#blur2)"/>
<ellipse cx="1927.0" cy="1889.4" rx="6.0" ry="5.5" fill="#440608" opacity="1.00" transform="rotate(45 1927.0 1889.4)" filter="url(#blur2)"/>
</g></g>
<rect x="1345" y="1301.6" width="3" height="588.9" fill="#fdf6f0"/>
<rect x="1345.4" y="1301.8" width="587" height="3" fill="#fdf6f0"/>
<rect x="1563.8" y="1301.6" width="2.8" height="588.9" fill="#fdf6f0"/>
<rect x="1345.4" y="1522.4" width="587" height="2.8" fill="#fdf6f0"/>
<rect x="1662.4" y="1301.6" width="2.8" height="588.9" fill="#fdf6f0"/>
<rect x="1345.4" y="1621.1" width="587" height="2.8" fill="#fdf6f0"/>
<rect x="1907.2" y="1301.6" width="2.8" height="588.9" fill="#fdf6f0"/>
<rect x="1345.4" y="1866.6" width="587" height="2.8" fill="#fdf6f0"/>
<rect x="1343.85" y="1300.05" width="590.5" height="591.9" fill="none" stroke="#1c1819" stroke-width="2.9"/>
<rect x="1322.9" y="1312" width="2.8" height="569" fill="#1c1819"/>
<path d="M1324.3 1297.3L1314.9 1314L1333.7 1314Z" fill="#1c1819"/>
<path d="M1324.3 1895.3L1314.9 1879.2L1333.7 1879.2Z" fill="#1c1819"/>
<text x="1120.2" y="1260.5" class="b">D</text>
<text x="1243" y="1263" class="t">Hi-C map for mastigote enriched culture</text>
<text class="s" transform="translate(1303.7 1600.2) rotate(-90)">11.9 Mb</text>
<text x="1359" y="1868.2" class="s">Smic1.0; Bin size: 50 kb</text>
<rect x="1969.65" y="1846.05" width="105.5" height="17.5" fill="url(#cbg)" stroke="#1c1819" stroke-width="2.5"/>
<text x="1962.9" y="1839.6" class="s">0</text>
<text x="2013" y="1839.6" class="s">0.012</text>
<text x="1959.8" y="1891.6" class="s">Hi-C count</text>
<text x="1498" y="1951.5" class="t">Chromosome 4</text>
</svg>
</body></html>
